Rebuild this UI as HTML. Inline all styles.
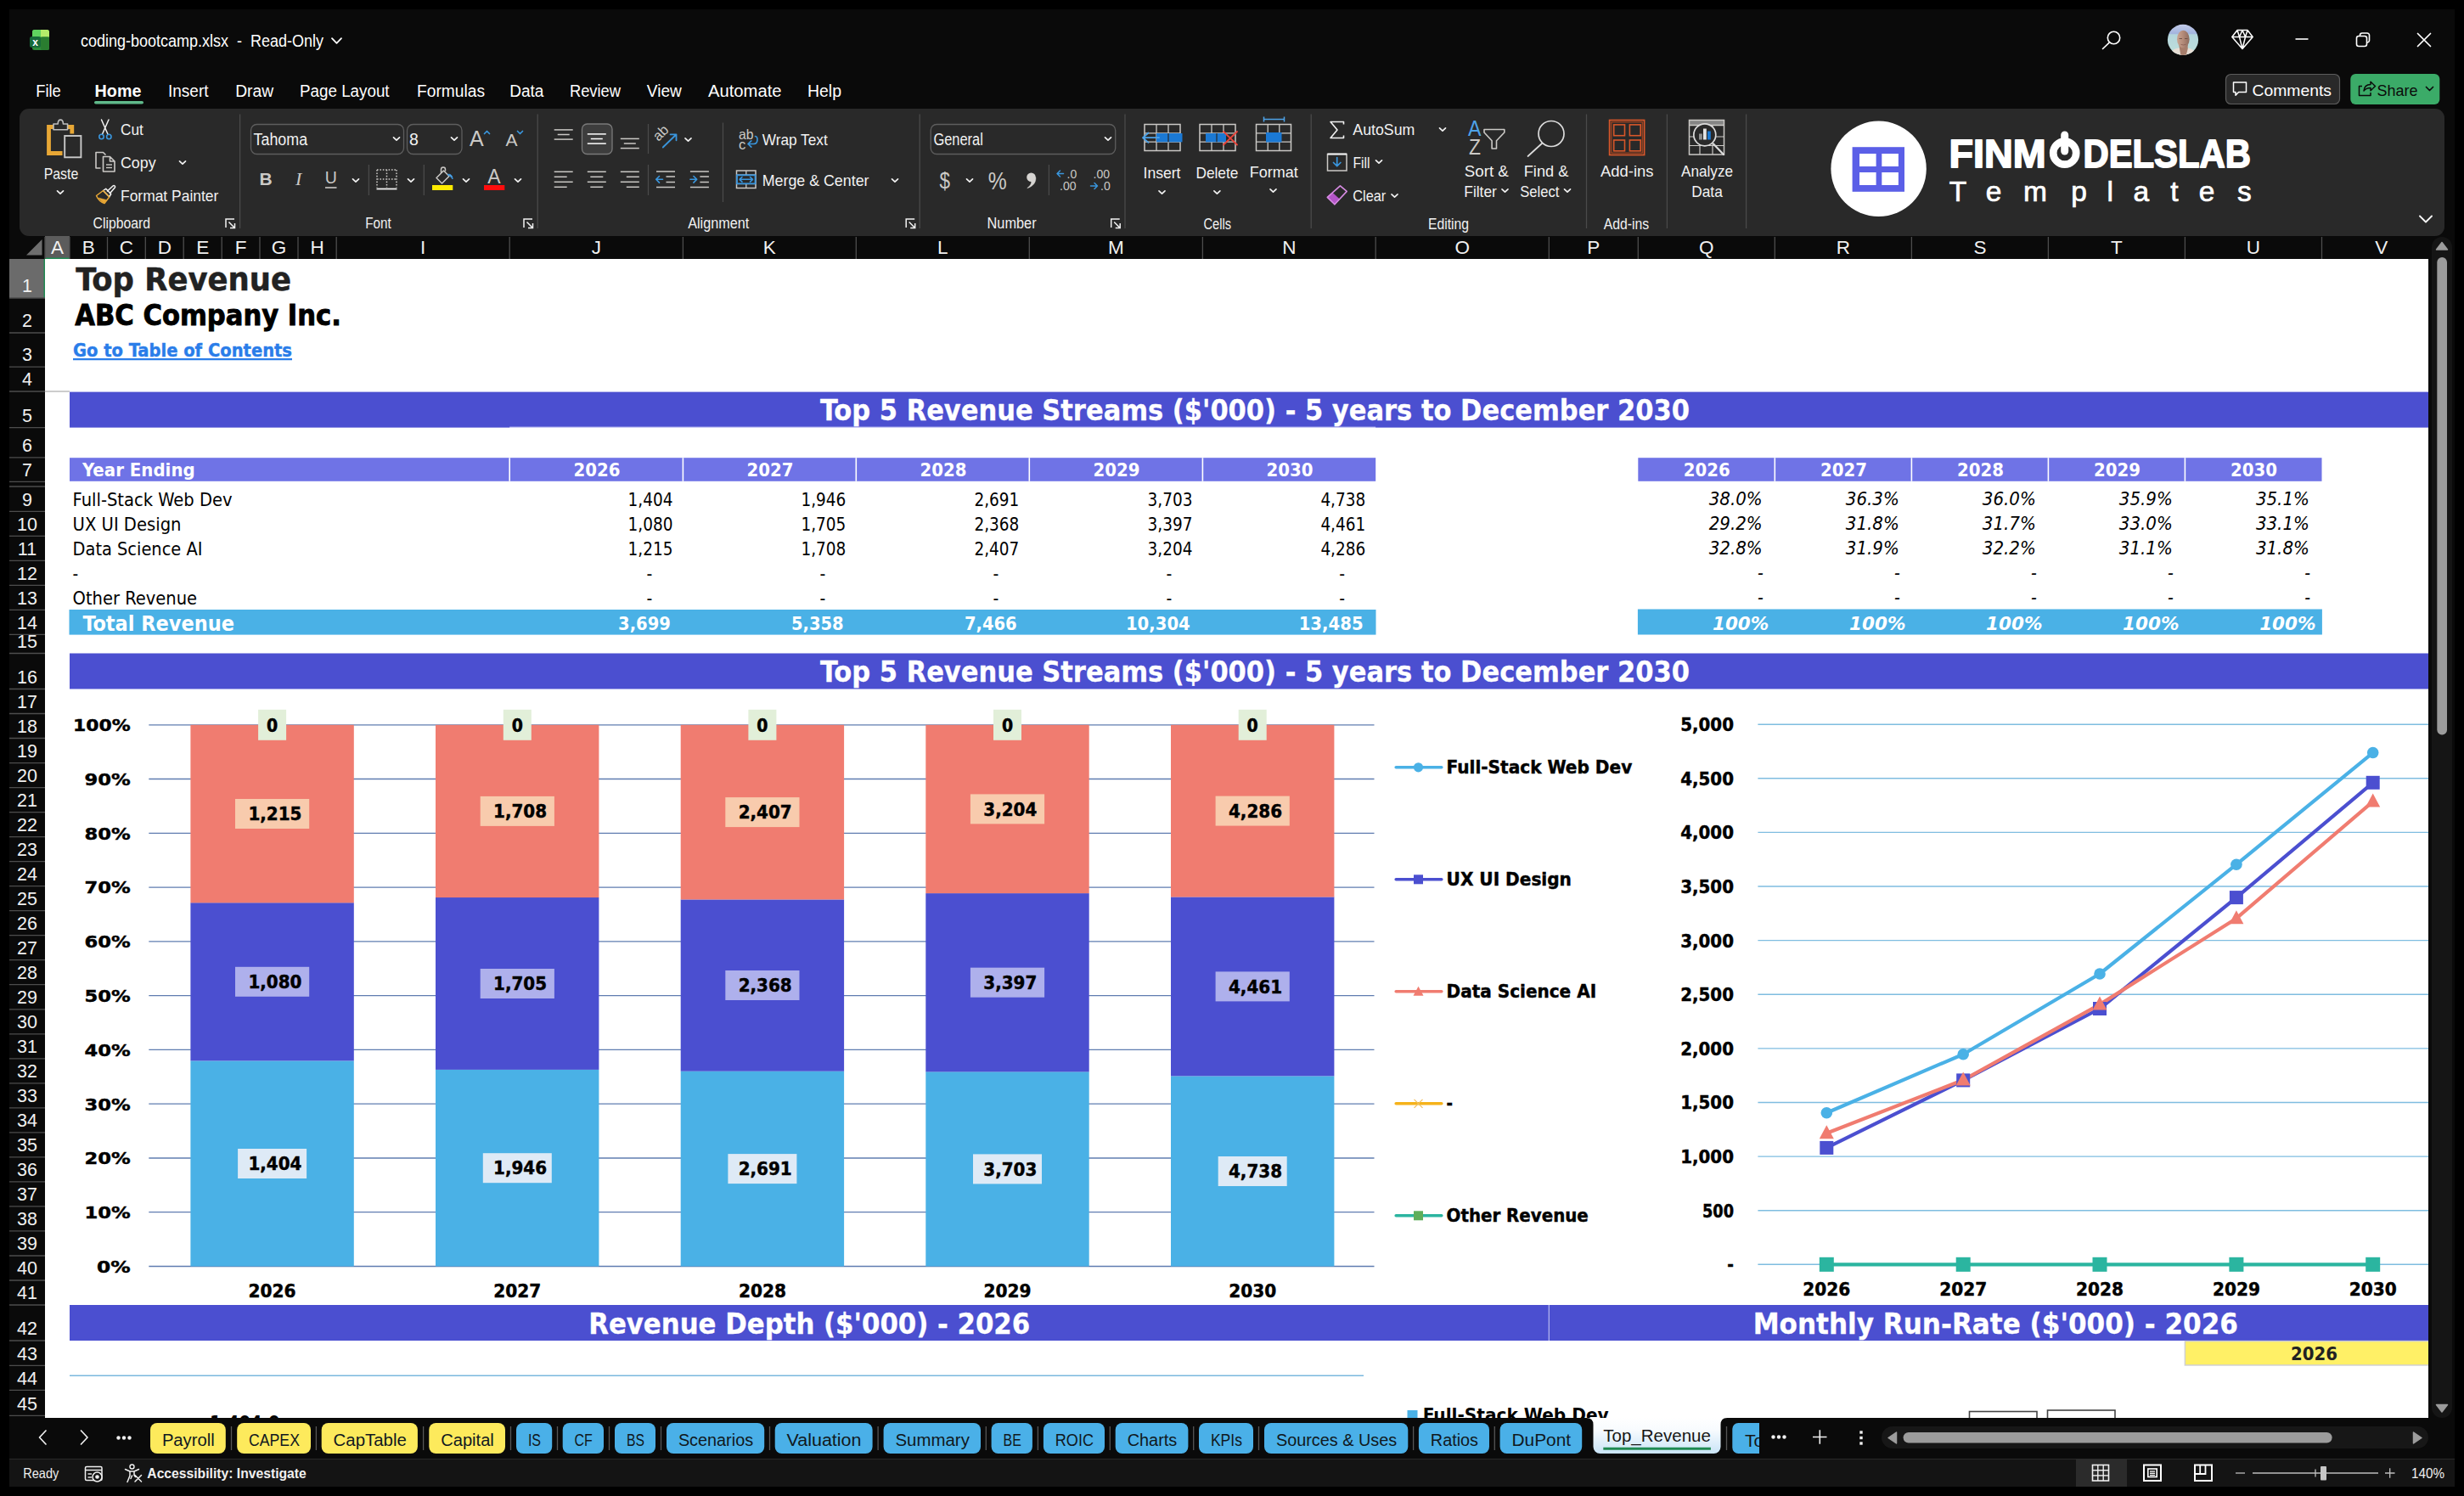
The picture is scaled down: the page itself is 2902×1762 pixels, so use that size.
<!DOCTYPE html>
<html lang="en"><head><meta charset="utf-8"><title>coding-bootcamp.xlsx - Excel</title><style>
html,body{margin:0;padding:0;background:#000;}
body{width:2902px;height:1762px;overflow:hidden;position:relative;font-family:"Liberation Sans",sans-serif;}
#win{position:absolute;left:11px;top:11px;width:2880px;height:1740px;background:#0a0a0a;}
.sec{position:absolute;overflow:hidden;margin:0;padding:0;display:block;}
.sec svg{display:block;position:absolute;left:0;top:0;}
svg text{font-family:"Liberation Sans",sans-serif;white-space:pre;}
svg text.th{font-family:"DejaVu Sans Condensed","DejaVu Sans","Liberation Sans",sans-serif;}
svg text.sf{font-family:"Liberation Serif",serif;}
</style></head>
<body>
<div id="win"></div>
<header id="titlebar" class="sec" style="left:11px;top:11px;width:2880px;height:117px;background:#0a0a0a;"><svg width="2880" height="117" viewBox="11 11 2880 117"><g id="xl-icon"><rect x="38" y="35" width="20" height="24" rx="2.5" fill="#2e8b3a"/><path d="M38 37.5a2.5 2.5 0 0 1 2.5-2.5H48v8.5H38z" fill="#5fd35f"/><path d="M48 35h7.5a2.5 2.5 0 0 1 2.5 2.5V43.5H48z" fill="#b4ec6a"/><rect x="48" y="43.5" width="10" height="15.5" fill="#2a7d30" rx="2"/><rect x="35" y="43" width="13" height="13" rx="2.5" fill="#176b3a"/><text x="41.5" y="54.0" font-size="12" fill="#fff" font-weight="bold" text-anchor="middle">x</text></g><text x="95.0" y="54.5" font-size="19.5" fill="#fff" textLength="286.0" lengthAdjust="spacingAndGlyphs">coding-bootcamp.xlsx  -  Read-Only</text><path d="M391.0 45.2L396.5 50.8L402.0 45.2" stroke="#fff" stroke-width="1.8" fill="none" stroke-linecap="round" stroke-linejoin="round"/><circle cx="2489.5" cy="44.5" r="7.2" fill="none" stroke="#fff" stroke-width="1.6"/><line x1="2484.5" y1="49.8" x2="2476.5" y2="57.5" stroke="#fff" stroke-width="1.6" stroke-linecap="round"/><defs><clipPath id="avc"><circle cx="2571" cy="46.900" r="18.100"/></clipPath><linearGradient id="avg" x1="0" y1="0" x2="0" y2="1"><stop offset="0" stop-color="#c5cdea"/><stop offset="0.30" stop-color="#a3b4de"/><stop offset="0.34" stop-color="#b4d6dc"/><stop offset="1" stop-color="#bfe0dc"/></linearGradient><linearGradient id="avf" x1="0" y1="0" x2="1" y2="0"><stop offset="0" stop-color="#c9a391"/><stop offset="0.45" stop-color="#b58c7a"/><stop offset="1" stop-color="#8f6b5d"/></linearGradient></defs><g clip-path="url(#avc)"><rect x="2552" y="28" width="38" height="38" fill="url(#avg)"/><path d="M2556 66c0.500-6 4-8.500 9.500-9.500h11.500c5.500 1 8.500 3.500 9.500 9.500z" fill="#e7ded5"/><path d="M2566.300 53h10.400v4.500l-2.200 8.500h-6z" fill="#a67d6b"/><ellipse cx="2571.300" cy="46.200" rx="7.300" ry="10.400" fill="url(#avf)"/><path d="M2566.500 45.500h3.500M2573 45.500h3.500" stroke="#6b4e44" stroke-width="0.900" fill="none"/><path d="M2568.500 52.300q3 1.300 6 0" stroke="#8a5f55" stroke-width="0.800" fill="none"/></g><path d="M2628.8 43.5L2635 35.5H2647L2653.2 43.5L2641 57.5Z M2628.8 43.5H2653.2 M2635 35.5L2637.5 43.5L2641 57.5L2644.5 43.5L2647 35.5 M2637.5 43.5L2641 35.5L2644.5 43.5" stroke="#fff" stroke-width="1.5" fill="none" stroke-linejoin="round"/><line x1="2703.5" y1="46.0" x2="2718.5" y2="46.0" stroke="#fff" stroke-width="1.6" /><rect x="2775.5" y="42.5" width="12.0" height="12.0" fill="none" rx="2.5" stroke="#fff" stroke-width="1.6"/><path d="M2779.5 42.5V41.5a2.5 2.5 0 0 1 2.5-2.5h6a2.5 2.5 0 0 1 2.5 2.5v6a2.5 2.5 0 0 1-2.5 2.5h-0.5" stroke="#fff" stroke-width="1.6" fill="none" /><path d="M2847.5 39.5L2862.5 54.5M2862.5 39.5L2847.5 54.5" stroke="#fff" stroke-width="1.7" fill="none" stroke-linecap="round"/><text x="42.2" y="114.3" font-size="19.5" fill="#fff" textLength="29.6" lengthAdjust="spacingAndGlyphs">File</text><text x="111.6" y="114.3" font-size="19.5" fill="#fff" font-weight="bold" textLength="54.8" lengthAdjust="spacingAndGlyphs">Home</text><text x="198.0" y="114.3" font-size="19.5" fill="#fff" textLength="47.5" lengthAdjust="spacingAndGlyphs">Insert</text><text x="277.2" y="114.3" font-size="19.5" fill="#fff" textLength="45.0" lengthAdjust="spacingAndGlyphs">Draw</text><text x="353.0" y="114.3" font-size="19.5" fill="#fff" textLength="105.6" lengthAdjust="spacingAndGlyphs">Page Layout</text><text x="491.0" y="114.3" font-size="19.5" fill="#fff" textLength="80.0" lengthAdjust="spacingAndGlyphs">Formulas</text><text x="600.2" y="114.3" font-size="19.5" fill="#fff" textLength="40.2" lengthAdjust="spacingAndGlyphs">Data</text><text x="670.9" y="114.3" font-size="19.5" fill="#fff" textLength="60.1" lengthAdjust="spacingAndGlyphs">Review</text><text x="761.8" y="114.3" font-size="19.5" fill="#fff" textLength="41.0" lengthAdjust="spacingAndGlyphs">View</text><text x="834.0" y="114.3" font-size="19.5" fill="#fff" textLength="86.5" lengthAdjust="spacingAndGlyphs">Automate</text><text x="951.0" y="114.3" font-size="19.5" fill="#fff" textLength="40.0" lengthAdjust="spacingAndGlyphs">Help</text><rect x="111.0" y="119.0" width="58.0" height="3.6" fill="#5fb98a" rx="1.8"/><rect x="2621.5" y="87.5" width="134.0" height="35.0" fill="#292929" rx="6" stroke="#5c5c5c" stroke-width="1.2"/><path d="M2630.5 97h15v11.5h-9l-3.5 3.8v-3.8h-2.5z" stroke="#fff" stroke-width="1.5" fill="none" stroke-linejoin="round"/><text x="2652.5" y="112.5" font-size="19" fill="#fff" textLength="93.5" lengthAdjust="spacingAndGlyphs">Comments</text><rect x="2768.3" y="87.0" width="105.0" height="36.0" fill="#3bab68" rx="6"/><path d="M2782 101.5h-3.5v11h13.5v-3.5 M2784 107c0.5-5 3.5-7.5 8-7.5v-3.2l5.5 5.2-5.5 5.2v-3.2c-3.5 0-6 1-8 3.5z" stroke="#0b0b0b" stroke-width="1.5" fill="none" stroke-linejoin="round"/><text x="2799.5" y="112.5" font-size="19" fill="#0b0b0b" textLength="48.0" lengthAdjust="spacingAndGlyphs">Share</text><path d="M2857.5 102.5L2861.5 106.5L2865.5 102.5" stroke="#0b0b0b" stroke-width="1.7" fill="none" stroke-linecap="round" stroke-linejoin="round"/></svg></header>
<section id="ribbon" class="sec" style="left:11px;top:128px;width:2880px;height:150px;background:#0a0a0a;"><svg width="2880" height="150" viewBox="11 128 2880 150"><rect x="23.0" y="128.0" width="2856.0" height="150.0" fill="#292929" rx="11"/><g id="paste-ic"><path d="M63 149.500H57.500V180.500H73.500" stroke="#e8a735" stroke-width="4.8" fill="none" stroke-linejoin="miter"/><path d="M80 149.500H84.800V157.500" stroke="#e8a735" stroke-width="4.8" fill="none" /><path d="M63 152.700v-6.700h5.200c0-6.500 6.200-6.500 6.200 0h5.200v6.700z" stroke="#bdbdbd" stroke-width="1.6" fill="#292929" stroke-linejoin="round"/><rect x="76.2" y="160.0" width="19.2" height="25.3" fill="#292929" stroke="#c9c9c9" stroke-width="1.9"/></g><text x="51.7" y="210.5" font-size="18.5" fill="#f2f2f2" textLength="40.6" lengthAdjust="spacingAndGlyphs">Paste</text><path d="M67.5 224.8L71.0 228.2L74.5 224.8" stroke="#f2f2f2" stroke-width="1.7" fill="none" stroke-linecap="round" stroke-linejoin="round"/><path d="M119.5 141L127 158 M128 141L120.5 158" stroke="#f2f2f2" stroke-width="1.5" fill="none" stroke-linecap="round"/><circle cx="119.5" cy="161" r="2.7" fill="none" stroke="#3a96dd" stroke-width="1.6"/><circle cx="128.3" cy="161" r="2.7" fill="none" stroke="#3a96dd" stroke-width="1.6"/><text x="142.0" y="158.8" font-size="18.5" fill="#f2f2f2" textLength="26.8" lengthAdjust="spacingAndGlyphs">Cut</text><path d="M118.5 198H113V179.5h8.5l3 3" stroke="#cbc9c6" stroke-width="1.6" fill="none" stroke-linejoin="round"/><path d="M121.5 184.5h8l5.5 5.5v12h-13.5z M129.5 184.5v5.5h5.5" stroke="#cbc9c6" stroke-width="1.6" fill="none" stroke-linejoin="round"/><line x1="125.0" y1="194.0" x2="132.0" y2="194.0" stroke="#cbc9c6" stroke-width="1.4" /><line x1="125.0" y1="197.5" x2="132.0" y2="197.5" stroke="#cbc9c6" stroke-width="1.4" /><text x="142.0" y="198.0" font-size="18.5" fill="#f2f2f2" textLength="41.6" lengthAdjust="spacingAndGlyphs">Copy</text><path d="M211.5 189.8L215.0 193.2L218.5 189.8" stroke="#f2f2f2" stroke-width="1.7" fill="none" stroke-linecap="round" stroke-linejoin="round"/><path d="M126 225.5l7-6.5c1.5-1.3 3.4 0.6 2.2 2.1l-6.2 7.2" stroke="#f2f2f2" stroke-width="1.6" fill="none" stroke-linejoin="round"/><path d="M121.5 224.5l3.2-2.2 6 6.2-2 3.3z" stroke="#f2f2f2" stroke-width="1.5" fill="none" stroke-linejoin="round"/><path d="M113.5 230.5l8-6 7.2 7.5-5.7 7.5c-4-1.2-7.5-4.500-9.5-9z" stroke="#e8a735" stroke-width="1.5" fill="none" stroke-linejoin="round"/><path d="M116 233l9.500 2.5-2.500 3.500c-3-1-5.500-3.500-7-6z" stroke="#e8a735" stroke-width="0.5" fill="#e8a735" /><text x="142.0" y="236.5" font-size="18.5" fill="#f2f2f2" textLength="115.3" lengthAdjust="spacingAndGlyphs">Format Painter</text><text x="143.3" y="269.0" font-size="17.5" fill="#f2f2f2" text-anchor="middle" textLength="67.4" lengthAdjust="spacingAndGlyphs">Clipboard</text><path d="M266 268V258H276 M269.5 261.5L276.5 268.5 M276.5 263V268.5H271" stroke="#f2f2f2" stroke-width="1.5" fill="none" /><line x1="282.6" y1="134.5" x2="282.6" y2="269.0" stroke="#4a4a4a" stroke-width="1.3" /><rect x="295.5" y="146.5" width="180.0" height="35.0" fill="#292929" rx="7" stroke="#5e5e5e" stroke-width="1.3"/><text x="298.6" y="171.0" font-size="19.5" fill="#f2f2f2" textLength="63.5" lengthAdjust="spacingAndGlyphs">Tahoma</text><path d="M463.5 161.8L467.0 165.2L470.5 161.8" stroke="#f2f2f2" stroke-width="1.7" fill="none" stroke-linecap="round" stroke-linejoin="round"/><rect x="479.5" y="146.5" width="64.5" height="35.0" fill="#292929" rx="7" stroke="#5e5e5e" stroke-width="1.3"/><text x="482.0" y="171.0" font-size="19.5" fill="#f2f2f2">8</text><path d="M531.5 161.8L535.0 165.2L538.5 161.8" stroke="#f2f2f2" stroke-width="1.7" fill="none" stroke-linecap="round" stroke-linejoin="round"/><text x="553.0" y="172.0" font-size="25" fill="#cbc9c6">A</text><path d="M570.5 157.5l3-3 3 3" stroke="#3a96dd" stroke-width="1.7" fill="none" stroke-linecap="round" stroke-linejoin="round"/><text x="595.5" y="172.0" font-size="21" fill="#cbc9c6">A</text><path d="M609.5 154.500l3 3 3-3" stroke="#3a96dd" stroke-width="1.7" fill="none" stroke-linecap="round" stroke-linejoin="round"/><text x="313.0" y="218.0" font-size="21" fill="#cbc9c6" font-weight="bold" text-anchor="middle">B</text><text x="351.6" y="218.0" font-size="22" fill="#cbc9c6" text-anchor="middle" class="sf" font-style="italic">I</text><text x="389.7" y="216.0" font-size="19.5" fill="#cbc9c6" text-anchor="middle">U</text><line x1="383.0" y1="221.0" x2="396.5" y2="221.0" stroke="#cbc9c6" stroke-width="1.6" /><path d="M415.5 210.8L419.0 214.2L422.5 210.8" stroke="#f2f2f2" stroke-width="1.7" fill="none" stroke-linecap="round" stroke-linejoin="round"/><line x1="434.4" y1="194.0" x2="434.4" y2="230.0" stroke="#4a4a4a" stroke-width="1.3" /><path d="M444 200H467 M444 200V221 M467 200V221 M455.5 200V221 M444 211H467" stroke="#cbc9c6" stroke-width="1.5" fill="none" stroke-dasharray="1.6 1.8"/><line x1="443.5" y1="222.5" x2="467.5" y2="222.5" stroke="#f2f2f2" stroke-width="1.8" /><path d="M480.5 210.8L484.0 214.2L487.5 210.8" stroke="#f2f2f2" stroke-width="1.7" fill="none" stroke-linecap="round" stroke-linejoin="round"/><line x1="499.3" y1="194.0" x2="499.3" y2="230.0" stroke="#4a4a4a" stroke-width="1.3" /><path d="M514 209.5l8.5-8.500 6.5 6.500-8.500 8.500z M519.5 204v-4.500a2.500 2.500 0 0 1 5 0v2" stroke="#cbc9c6" stroke-width="1.5" fill="none" stroke-linejoin="round"/><path d="M527 205.5c3.5-1 6 1 6 5.500c-1.500-2.800-3.500-4-6-5.500z" stroke="#3a96dd" stroke-width="1" fill="#5aa7e6" /><rect x="509.0" y="218.0" width="24.3" height="6.0" fill="#ffeb00"/><path d="M545.5 210.8L549.0 214.2L552.5 210.8" stroke="#f2f2f2" stroke-width="1.7" fill="none" stroke-linecap="round" stroke-linejoin="round"/><text x="582.0" y="215.5" font-size="23" fill="#cbc9c6" text-anchor="middle">A</text><rect x="570.0" y="218.0" width="24.3" height="6.0" fill="#ff0d0d"/><path d="M606.5 210.8L610.0 214.2L613.5 210.8" stroke="#f2f2f2" stroke-width="1.7" fill="none" stroke-linecap="round" stroke-linejoin="round"/><text x="445.5" y="269.0" font-size="17.5" fill="#f2f2f2" text-anchor="middle" textLength="30.5" lengthAdjust="spacingAndGlyphs">Font</text><path d="M617 268V258H627 M620.5 261.5L627.5 268.5 M627.5 263V268.5H622" stroke="#f2f2f2" stroke-width="1.5" fill="none" /><line x1="633.2" y1="134.5" x2="633.2" y2="269.0" stroke="#4a4a4a" stroke-width="1.3" /><line x1="652.7" y1="152.9" x2="674.7" y2="152.9" stroke="#cbc9c6" stroke-width="1.5" /><line x1="656.7" y1="158.5" x2="670.7" y2="158.5" stroke="#cbc9c6" stroke-width="1.5" /><line x1="652.7" y1="164.1" x2="674.7" y2="164.1" stroke="#cbc9c6" stroke-width="1.5" /><rect x="685.5" y="146.0" width="35.5" height="35.5" fill="#3d3d3d" rx="6" stroke="#7a7a7a" stroke-width="1.3"/><line x1="691.8" y1="157.9" x2="713.8" y2="157.9" stroke="#fff" stroke-width="1.5" /><line x1="695.8" y1="163.5" x2="709.8" y2="163.5" stroke="#fff" stroke-width="1.5" /><line x1="691.8" y1="169.1" x2="713.8" y2="169.1" stroke="#fff" stroke-width="1.5" /><line x1="730.8" y1="163.4" x2="752.8" y2="163.4" stroke="#cbc9c6" stroke-width="1.5" /><line x1="734.8" y1="169.0" x2="748.8" y2="169.0" stroke="#cbc9c6" stroke-width="1.5" /><line x1="730.8" y1="174.6" x2="752.8" y2="174.6" stroke="#cbc9c6" stroke-width="1.5" /><line x1="652.7" y1="202.3" x2="674.7" y2="202.3" stroke="#cbc9c6" stroke-width="1.5" /><line x1="652.7" y1="208.3" x2="667.7" y2="208.3" stroke="#cbc9c6" stroke-width="1.5" /><line x1="652.7" y1="214.3" x2="674.7" y2="214.3" stroke="#cbc9c6" stroke-width="1.5" /><line x1="652.7" y1="220.3" x2="667.7" y2="220.3" stroke="#cbc9c6" stroke-width="1.5" /><line x1="691.8" y1="202.3" x2="713.8" y2="202.3" stroke="#cbc9c6" stroke-width="1.5" /><line x1="695.3" y1="208.3" x2="710.3" y2="208.3" stroke="#cbc9c6" stroke-width="1.5" /><line x1="691.8" y1="214.3" x2="713.8" y2="214.3" stroke="#cbc9c6" stroke-width="1.5" /><line x1="695.3" y1="220.3" x2="710.3" y2="220.3" stroke="#cbc9c6" stroke-width="1.5" /><line x1="730.8" y1="202.3" x2="752.8" y2="202.3" stroke="#cbc9c6" stroke-width="1.5" /><line x1="737.8" y1="208.3" x2="752.8" y2="208.3" stroke="#cbc9c6" stroke-width="1.5" /><line x1="730.8" y1="214.3" x2="752.8" y2="214.3" stroke="#cbc9c6" stroke-width="1.5" /><line x1="737.8" y1="220.3" x2="752.8" y2="220.3" stroke="#cbc9c6" stroke-width="1.5" /><line x1="763.5" y1="146.0" x2="763.5" y2="181.0" stroke="#4a4a4a" stroke-width="1.3" /><line x1="763.5" y1="194.0" x2="763.5" y2="230.0" stroke="#4a4a4a" stroke-width="1.3" /><text x="0.0" y="0.0" font-size="16.5" fill="#cbc9c6" transform="translate(775.500,167) rotate(-45)">ab</text><path d="M780.800 173.500l15.500-15 M789.500 158.300h7v7" stroke="#3a96dd" stroke-width="1.8" fill="none" stroke-linecap="round" stroke-linejoin="round"/><path d="M807.0 162.8L810.5 166.2L814.0 162.8" stroke="#f2f2f2" stroke-width="1.7" fill="none" stroke-linecap="round" stroke-linejoin="round"/><line x1="773.0" y1="202.0" x2="795.0" y2="202.0" stroke="#cbc9c6" stroke-width="1.5" /><line x1="773.0" y1="220.5" x2="795.0" y2="220.5" stroke="#cbc9c6" stroke-width="1.5" /><line x1="784.5" y1="208.0" x2="795.0" y2="208.0" stroke="#cbc9c6" stroke-width="1.5" /><line x1="784.5" y1="214.5" x2="795.0" y2="214.5" stroke="#cbc9c6" stroke-width="1.5" /><path d="M780.5 211.3H773 M776.5 207.500l-3.800 3.800 3.800 3.800" stroke="#3a96dd" stroke-width="1.6" fill="none" stroke-linecap="round" stroke-linejoin="round"/><line x1="812.9" y1="202.0" x2="834.9" y2="202.0" stroke="#cbc9c6" stroke-width="1.5" /><line x1="812.9" y1="220.5" x2="834.9" y2="220.5" stroke="#cbc9c6" stroke-width="1.5" /><line x1="824.4" y1="208.0" x2="834.9" y2="208.0" stroke="#cbc9c6" stroke-width="1.5" /><line x1="824.4" y1="214.5" x2="834.9" y2="214.5" stroke="#cbc9c6" stroke-width="1.5" /><path d="M812.9 211.3H820.4 M816.9 207.500l3.800 3.800-3.800 3.800" stroke="#3a96dd" stroke-width="1.6" fill="none" stroke-linecap="round" stroke-linejoin="round"/><line x1="851.5" y1="144.5" x2="851.5" y2="238.0" stroke="#4a4a4a" stroke-width="1.3" /><text x="870.0" y="163.5" font-size="16.5" fill="#cbc9c6" textLength="17.5" lengthAdjust="spacingAndGlyphs">ab</text><text x="870.0" y="175.5" font-size="16.5" fill="#cbc9c6">c</text><path d="M889.500 160.500c3.500 0.500 3.500 9-1.500 9h-7 M884.800 165.800l-3.800 3.700 3.800 3.700" stroke="#3a96dd" stroke-width="1.7" fill="none" stroke-linecap="round" stroke-linejoin="round"/><text x="897.7" y="171.0" font-size="18.5" fill="#f2f2f2" textLength="77.0" lengthAdjust="spacingAndGlyphs">Wrap Text</text><rect x="867.5" y="201.0" width="22.5" height="20.5" fill="none" stroke="#cbc9c6" stroke-width="1.5"/><line x1="867.5" y1="206.0" x2="890.0" y2="206.0" stroke="#cbc9c6" stroke-width="1.3" /><line x1="867.5" y1="216.5" x2="890.0" y2="216.5" stroke="#cbc9c6" stroke-width="1.3" /><line x1="878.8" y1="201.0" x2="878.8" y2="206.0" stroke="#cbc9c6" stroke-width="1.3" /><line x1="878.8" y1="216.5" x2="878.8" y2="221.5" stroke="#cbc9c6" stroke-width="1.3" /><rect x="868.0" y="206.3" width="21.5" height="10.0" fill="#292929" stroke="#3a96dd" stroke-width="1.8"/><path d="M871 211.3h15.500 M874 208.500l-3 2.800 3 2.800 M883.500 208.500l3 2.800-3 2.800" stroke="#3a96dd" stroke-width="1.6" fill="none" stroke-linecap="round" stroke-linejoin="round"/><text x="897.7" y="219.0" font-size="18.5" fill="#f2f2f2" textLength="125.8" lengthAdjust="spacingAndGlyphs">Merge &amp; Center</text><path d="M1050.5 210.8L1054.0 214.2L1057.5 210.8" stroke="#f2f2f2" stroke-width="1.7" fill="none" stroke-linecap="round" stroke-linejoin="round"/><text x="846.2" y="269.0" font-size="17.5" fill="#f2f2f2" text-anchor="middle" textLength="72.0" lengthAdjust="spacingAndGlyphs">Alignment</text><path d="M1067.2 268V258H1077.2 M1070.7 261.5L1077.7 268.5 M1077.7 263V268.5H1072.2" stroke="#f2f2f2" stroke-width="1.5" fill="none" /><line x1="1083.2" y1="134.5" x2="1083.2" y2="269.0" stroke="#4a4a4a" stroke-width="1.3" /><rect x="1096.2" y="146.5" width="217.5" height="35.0" fill="#292929" rx="7" stroke="#5e5e5e" stroke-width="1.3"/><text x="1099.4" y="171.0" font-size="19.5" fill="#f2f2f2" textLength="58.5" lengthAdjust="spacingAndGlyphs">General</text><path d="M1301.5 161.8L1305.0 165.2L1308.5 161.8" stroke="#f2f2f2" stroke-width="1.7" fill="none" stroke-linecap="round" stroke-linejoin="round"/><text x="1112.8" y="221.5" font-size="27.5" fill="#cbc9c6" text-anchor="middle" textLength="12.5" lengthAdjust="spacingAndGlyphs">$</text><path d="M1138.5 210.8L1142.0 214.2L1145.5 210.8" stroke="#f2f2f2" stroke-width="1.7" fill="none" stroke-linecap="round" stroke-linejoin="round"/><text x="1174.8" y="222.5" font-size="30" fill="#cbc9c6" text-anchor="middle" textLength="22.0" lengthAdjust="spacingAndGlyphs">%</text><circle cx="1214.500" cy="208.700" r="5.300" fill="#d6d4d1"/><path d="M1219.800 208.700C1220.600 215 1216 220 1209.800 221.600C1213.500 219 1215 216 1214.600 213.500Z" stroke="#d6d4d1" stroke-width="0.5" fill="#d6d4d1" /><line x1="1235.4" y1="194.0" x2="1235.4" y2="230.0" stroke="#4a4a4a" stroke-width="1.3" /><text x="1256.5" y="210.0" font-size="14" fill="#cbc9c6">.0</text><text x="1248.0" y="223.5" font-size="14" fill="#cbc9c6">.00</text><path d="M1245 204.500h7.500 M1248.500 201l-3.500 3.500 3.500 3.500" stroke="#3a96dd" stroke-width="1.5" fill="none" stroke-linecap="round" stroke-linejoin="round"/><text x="1287.5" y="210.0" font-size="14" fill="#cbc9c6">.00</text><text x="1296.0" y="223.5" font-size="14" fill="#cbc9c6">.0</text><path d="M1284.500 219h8 M1289 215.500l3.500 3.500-3.500 3.500" stroke="#3a96dd" stroke-width="1.5" fill="none" stroke-linecap="round" stroke-linejoin="round"/><text x="1191.6" y="269.0" font-size="17.5" fill="#f2f2f2" text-anchor="middle" textLength="58.0" lengthAdjust="spacingAndGlyphs">Number</text><path d="M1308.7 268V258H1318.7 M1312.2 261.5L1319.2 268.5 M1319.2 263V268.5H1313.7" stroke="#f2f2f2" stroke-width="1.5" fill="none" /><line x1="1325.0" y1="134.5" x2="1325.0" y2="269.0" stroke="#4a4a4a" stroke-width="1.3" /><rect x="1348.0" y="146.5" width="42.0" height="31.0" fill="none" stroke="#cbc9c6" stroke-width="1.5"/><line x1="1362.0" y1="146.5" x2="1362.0" y2="177.5" stroke="#cbc9c6" stroke-width="1.3" /><line x1="1376.0" y1="146.5" x2="1376.0" y2="177.5" stroke="#cbc9c6" stroke-width="1.3" /><line x1="1348.0" y1="156.8" x2="1390.0" y2="156.8" stroke="#cbc9c6" stroke-width="1.3" /><line x1="1348.0" y1="167.2" x2="1390.0" y2="167.2" stroke="#cbc9c6" stroke-width="1.3" /><rect x="1362.0" y="157.0" width="30.5" height="10.3" fill="#1b79d4"/><line x1="1376.0" y1="157.0" x2="1376.0" y2="167.3" stroke="#292929" stroke-width="1.2" /><path d="M1365 162.200h-18.500 M1352.500 156.500l-6.500 5.700 6.500 5.700" stroke="#4ea3e8" stroke-width="1.8" fill="none" stroke-linecap="round" stroke-linejoin="round"/><text x="1368.5" y="210.0" font-size="18.5" fill="#f2f2f2" text-anchor="middle" textLength="44.0" lengthAdjust="spacingAndGlyphs">Insert</text><path d="M1365.0 224.8L1368.5 228.2L1372.0 224.8" stroke="#f2f2f2" stroke-width="1.7" fill="none" stroke-linecap="round" stroke-linejoin="round"/><rect x="1413.0" y="146.5" width="42.0" height="31.0" fill="none" stroke="#cbc9c6" stroke-width="1.5"/><line x1="1427.0" y1="146.5" x2="1427.0" y2="177.5" stroke="#cbc9c6" stroke-width="1.3" /><line x1="1441.0" y1="146.5" x2="1441.0" y2="177.5" stroke="#cbc9c6" stroke-width="1.3" /><line x1="1413.0" y1="156.8" x2="1455.0" y2="156.8" stroke="#cbc9c6" stroke-width="1.3" /><line x1="1413.0" y1="167.2" x2="1455.0" y2="167.2" stroke="#cbc9c6" stroke-width="1.3" /><rect x="1420.0" y="157.0" width="24.0" height="10.3" fill="#1b79d4"/><line x1="1433.0" y1="157.0" x2="1433.0" y2="167.3" stroke="#292929" stroke-width="1.2" /><path d="M1441 155l16 15.500 M1457 155l-16 15.500" stroke="#e8443a" stroke-width="1.8" fill="none" stroke-linecap="round"/><text x="1433.4" y="210.0" font-size="18.5" fill="#f2f2f2" text-anchor="middle" textLength="50.0" lengthAdjust="spacingAndGlyphs">Delete</text><path d="M1429.9 224.8L1433.4 228.2L1436.9 224.8" stroke="#f2f2f2" stroke-width="1.7" fill="none" stroke-linecap="round" stroke-linejoin="round"/><rect x="1479.5" y="146.5" width="41.0" height="31.0" fill="none" stroke="#cbc9c6" stroke-width="1.5"/><line x1="1493.2" y1="146.5" x2="1493.2" y2="177.5" stroke="#cbc9c6" stroke-width="1.3" /><line x1="1506.8" y1="146.5" x2="1506.8" y2="177.5" stroke="#cbc9c6" stroke-width="1.3" /><line x1="1479.5" y1="156.8" x2="1520.5" y2="156.8" stroke="#cbc9c6" stroke-width="1.3" /><line x1="1479.5" y1="167.2" x2="1520.5" y2="167.2" stroke="#cbc9c6" stroke-width="1.3" /><rect x="1491.0" y="156.0" width="18.5" height="11.5" fill="#1b79d4"/><path d="M1488.500 140.500h24 M1488.500 137.500v6 M1512.500 137.500v6" stroke="#4ea3e8" stroke-width="1.5" fill="none" /><text x="1500.3" y="208.5" font-size="18.5" fill="#f2f2f2" text-anchor="middle" textLength="57.0" lengthAdjust="spacingAndGlyphs">Format</text><path d="M1496.0 222.8L1499.5 226.2L1503.0 222.8" stroke="#f2f2f2" stroke-width="1.7" fill="none" stroke-linecap="round" stroke-linejoin="round"/><text x="1433.8" y="270.0" font-size="17.5" fill="#f2f2f2" text-anchor="middle" textLength="32.5" lengthAdjust="spacingAndGlyphs">Cells</text><line x1="1544.2" y1="134.5" x2="1544.2" y2="269.0" stroke="#4a4a4a" stroke-width="1.3" /><path d="M1582.500 146.500v-3h-15.500l8 9.500-8 9.500h15.500v-3" stroke="#f2f2f2" stroke-width="1.6" fill="none" stroke-linejoin="round"/><text x="1593.3" y="158.8" font-size="18.5" fill="#f2f2f2" textLength="73.0" lengthAdjust="spacingAndGlyphs">AutoSum</text><path d="M1695.5 150.8L1699.0 154.2L1702.5 150.8" stroke="#f2f2f2" stroke-width="1.7" fill="none" stroke-linecap="round" stroke-linejoin="round"/><path d="M1563.500 181.500h22.500v19.500h-22.500z" stroke="#cbc9c6" stroke-width="1.5" fill="none" /><line x1="1563.5" y1="181.5" x2="1586.0" y2="181.5" stroke="#f2f2f2" stroke-width="2" /><path d="M1574.700 185.500v10 M1570.500 191.500l4.200 4.200 4.200-4.200" stroke="#3a96dd" stroke-width="1.7" fill="none" stroke-linecap="round" stroke-linejoin="round"/><text x="1593.5" y="198.0" font-size="18.5" fill="#f2f2f2" textLength="20.0" lengthAdjust="spacingAndGlyphs">Fill</text><path d="M1620.5 188.8L1624.0 192.2L1627.5 188.8" stroke="#f2f2f2" stroke-width="1.7" fill="none" stroke-linecap="round" stroke-linejoin="round"/><path d="M1569.300 227L1577.600 234.600L1571.900 240.800L1563.300 232.400Z" stroke="#b455c8" stroke-width="0.5" fill="#b455c8" /><path d="M1578.400 218.900L1586.200 225.400L1571.900 240.800L1563.300 232.400Z" stroke="#d78be3" stroke-width="1.6" fill="none" stroke-linejoin="round"/><text x="1593.3" y="237.0" font-size="18.5" fill="#f2f2f2" textLength="39.0" lengthAdjust="spacingAndGlyphs">Clear</text><path d="M1639.0 228.8L1642.5 232.2L1646.0 228.8" stroke="#f2f2f2" stroke-width="1.7" fill="none" stroke-linecap="round" stroke-linejoin="round"/><text x="1729.0" y="159.7" font-size="25" fill="#4ea3e8" textLength="15.5" lengthAdjust="spacingAndGlyphs">A</text><text x="1730.0" y="181.8" font-size="25" fill="#cbc9c6" textLength="14.0" lengthAdjust="spacingAndGlyphs">Z</text><path d="M1748 152.500H1771.800V156L1762.500 165.700V175H1757.100V165.700L1748 156Z" stroke="#cbc9c6" stroke-width="1.6" fill="none" stroke-linejoin="round"/><text x="1750.8" y="208.3" font-size="18.5" fill="#f2f2f2" text-anchor="middle" textLength="52.0" lengthAdjust="spacingAndGlyphs">Sort &amp;</text><text x="1724.3" y="232.3" font-size="18.5" fill="#f2f2f2" textLength="38.5" lengthAdjust="spacingAndGlyphs">Filter</text><path d="M1769.0 222.8L1772.5 226.2L1776.0 222.8" stroke="#f2f2f2" stroke-width="1.7" fill="none" stroke-linecap="round" stroke-linejoin="round"/><circle cx="1827" cy="157.500" r="15" fill="none" stroke="#dcdcdc" stroke-width="1.7"/><line x1="1816.5" y1="168.5" x2="1799.5" y2="184.0" stroke="#dcdcdc" stroke-width="1.7" stroke-linecap="round"/><text x="1821.0" y="208.3" font-size="18.5" fill="#f2f2f2" text-anchor="middle" textLength="52.5" lengthAdjust="spacingAndGlyphs">Find &amp;</text><text x="1790.3" y="232.3" font-size="18.5" fill="#f2f2f2" textLength="46.0" lengthAdjust="spacingAndGlyphs">Select</text><path d="M1842.5 222.8L1846.0 226.2L1849.5 222.8" stroke="#f2f2f2" stroke-width="1.7" fill="none" stroke-linecap="round" stroke-linejoin="round"/><text x="1706.0" y="270.0" font-size="17.5" fill="#f2f2f2" text-anchor="middle" textLength="48.0" lengthAdjust="spacingAndGlyphs">Editing</text><line x1="1868.5" y1="134.5" x2="1868.5" y2="269.0" stroke="#4a4a4a" stroke-width="1.3" /><rect x="1895.6" y="141.5" width="41.0" height="41.0" fill="none" stroke="#d8572a" stroke-width="1.7"/><rect x="1897.9" y="143.8" width="36.4" height="36.4" fill="none" stroke="#a8441f" stroke-width="1.2"/><rect x="1900.7" y="146.9" width="12.8" height="12.8" fill="none" stroke="#d8572a" stroke-width="1.6"/><rect x="1919.4" y="146.9" width="12.8" height="12.8" fill="none" stroke="#d8572a" stroke-width="1.6"/><rect x="1900.7" y="165.0" width="12.8" height="12.8" fill="none" stroke="#d8572a" stroke-width="1.6"/><rect x="1919.4" y="165.0" width="12.8" height="12.8" fill="none" stroke="#d8572a" stroke-width="1.6"/><text x="1916.3" y="208.3" font-size="18.5" fill="#f2f2f2" text-anchor="middle" textLength="62.5" lengthAdjust="spacingAndGlyphs">Add-ins</text><text x="1915.5" y="270.0" font-size="17.5" fill="#f2f2f2" text-anchor="middle" textLength="53.5" lengthAdjust="spacingAndGlyphs">Add-ins</text><line x1="1963.4" y1="134.5" x2="1963.4" y2="269.0" stroke="#4a4a4a" stroke-width="1.3" /><rect x="1989.5" y="142.0" width="41.0" height="5.5" fill="#858585"/><rect x="1989.5" y="141.5" width="41.0" height="40.5" fill="none" stroke="#cbc9c6" stroke-width="1.5"/><line x1="1989.5" y1="147.5" x2="2030.5" y2="147.5" stroke="#cbc9c6" stroke-width="1.3" /><line x1="1989.5" y1="161.0" x2="2030.5" y2="161.0" stroke="#cbc9c6" stroke-width="1.2" /><line x1="1989.5" y1="171.5" x2="2030.5" y2="171.5" stroke="#cbc9c6" stroke-width="1.2" /><line x1="2002.0" y1="147.5" x2="2002.0" y2="182.0" stroke="#cbc9c6" stroke-width="1.2" /><line x1="2017.0" y1="147.5" x2="2017.0" y2="182.0" stroke="#cbc9c6" stroke-width="1.2" /><circle cx="2007.800" cy="158.800" r="13" fill="#292929" stroke="#dcdcdc" stroke-width="1.7"/><rect x="2001.0" y="157.5" width="3.8" height="7.0" fill="#8f8f8f"/><rect x="2006.0" y="151.5" width="3.8" height="13.0" fill="#e4e4e4"/><rect x="2011.0" y="154.5" width="3.8" height="10.0" fill="#1b79d4"/><line x1="2018.0" y1="169.5" x2="2030.0" y2="182.0" stroke="#dcdcdc" stroke-width="2.2" stroke-linecap="round"/><text x="2010.5" y="208.3" font-size="18.5" fill="#f2f2f2" text-anchor="middle" textLength="61.0" lengthAdjust="spacingAndGlyphs">Analyze</text><text x="2010.5" y="232.0" font-size="18.5" fill="#f2f2f2" text-anchor="middle" textLength="36.5" lengthAdjust="spacingAndGlyphs">Data</text><line x1="2056.6" y1="134.5" x2="2056.6" y2="269.0" stroke="#4a4a4a" stroke-width="1.3" /><circle cx="2212.600" cy="198.800" r="56.200" fill="#fff"/><rect x="2181.6" y="173.2" width="61.4" height="52.6" fill="#5b5fe7"/><rect x="2190.0" y="181.0" width="19.6" height="15.0" fill="#fff"/><rect x="2216.3" y="181.0" width="19.6" height="15.0" fill="#fff"/><rect x="2190.0" y="203.0" width="19.6" height="15.0" fill="#fff"/><rect x="2216.3" y="203.0" width="19.6" height="15.0" fill="#fff"/><text x="2295.5" y="197.2" font-size="47" fill="#fff" font-weight="bold" textLength="114.2" lengthAdjust="spacingAndGlyphs" stroke="#fff" stroke-width="1.800" stroke-linejoin="round">FINM</text><text x="2453.6" y="197.2" font-size="47" fill="#fff" font-weight="bold" textLength="197.2" lengthAdjust="spacingAndGlyphs" stroke="#fff" stroke-width="1.800" stroke-linejoin="round">DELSLAB</text><circle cx="2431.700" cy="180.200" r="13.500" fill="none" stroke="#fff" stroke-width="8.700"/><line x1="2431.7" y1="159.0" x2="2431.7" y2="178.0" stroke="#fff" stroke-width="9" stroke-linecap="round"/><text x="2306 2348 2397 2448.5 2485.3 2521.8 2560.8 2599.1 2643.4" y="237" font-size="33.500" fill="#fff" stroke="#fff" stroke-width="0.700" text-anchor="middle">Templates</text><path d="M2850.0 254.5L2857.0 261.5L2864.0 254.5" stroke="#fff" stroke-width="1.8" fill="none" stroke-linecap="round" stroke-linejoin="round"/></svg></section>
<div id="colhdr" class="sec" style="left:11px;top:278px;width:2849px;height:27px;background:#0a0a0a;"><svg width="2849" height="27" viewBox="11 278 2849 27"><path d="M49.500 282v18.500H31z" stroke="none" stroke-width="0" fill="#6e6e6e" /><rect x="53.0" y="278.0" width="29.0" height="27.0" fill="#5c5c5c"/><line x1="53.0" y1="304.3" x2="82.0" y2="304.3" stroke="#1f8a52" stroke-width="1.6" /><text x="67.5" y="298.6" font-size="22.5" fill="#f0f0f0" text-anchor="middle">A</text><line x1="82.0" y1="279.0" x2="82.0" y2="305.0" stroke="#4d4d4d" stroke-width="1.3" /><text x="104.2" y="298.6" font-size="22.5" fill="#f0f0f0" text-anchor="middle">B</text><line x1="126.5" y1="279.0" x2="126.5" y2="305.0" stroke="#4d4d4d" stroke-width="1.3" /><text x="148.9" y="298.6" font-size="22.5" fill="#f0f0f0" text-anchor="middle">C</text><line x1="171.3" y1="279.0" x2="171.3" y2="305.0" stroke="#4d4d4d" stroke-width="1.3" /><text x="193.8" y="298.6" font-size="22.5" fill="#f0f0f0" text-anchor="middle">D</text><line x1="216.2" y1="279.0" x2="216.2" y2="305.0" stroke="#4d4d4d" stroke-width="1.3" /><text x="238.7" y="298.6" font-size="22.5" fill="#f0f0f0" text-anchor="middle">E</text><line x1="261.2" y1="279.0" x2="261.2" y2="305.0" stroke="#4d4d4d" stroke-width="1.3" /><text x="283.6" y="298.6" font-size="22.5" fill="#f0f0f0" text-anchor="middle">F</text><line x1="306.0" y1="279.0" x2="306.0" y2="305.0" stroke="#4d4d4d" stroke-width="1.3" /><text x="328.5" y="298.6" font-size="22.5" fill="#f0f0f0" text-anchor="middle">G</text><line x1="351.0" y1="279.0" x2="351.0" y2="305.0" stroke="#4d4d4d" stroke-width="1.3" /><text x="373.6" y="298.6" font-size="22.5" fill="#f0f0f0" text-anchor="middle">H</text><line x1="396.2" y1="279.0" x2="396.2" y2="305.0" stroke="#4d4d4d" stroke-width="1.3" /><text x="498.2" y="298.6" font-size="22.5" fill="#f0f0f0" text-anchor="middle">I</text><line x1="600.2" y1="279.0" x2="600.2" y2="305.0" stroke="#4d4d4d" stroke-width="1.3" /><text x="702.3" y="298.6" font-size="22.5" fill="#f0f0f0" text-anchor="middle">J</text><line x1="804.4" y1="279.0" x2="804.4" y2="305.0" stroke="#4d4d4d" stroke-width="1.3" /><text x="906.3" y="298.6" font-size="22.5" fill="#f0f0f0" text-anchor="middle">K</text><line x1="1008.3" y1="279.0" x2="1008.3" y2="305.0" stroke="#4d4d4d" stroke-width="1.3" /><text x="1110.3" y="298.6" font-size="22.5" fill="#f0f0f0" text-anchor="middle">L</text><line x1="1212.3" y1="279.0" x2="1212.3" y2="305.0" stroke="#4d4d4d" stroke-width="1.3" /><text x="1314.3" y="298.6" font-size="22.5" fill="#f0f0f0" text-anchor="middle">M</text><line x1="1416.4" y1="279.0" x2="1416.4" y2="305.0" stroke="#4d4d4d" stroke-width="1.3" /><text x="1518.3" y="298.6" font-size="22.5" fill="#f0f0f0" text-anchor="middle">N</text><line x1="1620.2" y1="279.0" x2="1620.2" y2="305.0" stroke="#4d4d4d" stroke-width="1.3" /><text x="1722.2" y="298.6" font-size="22.5" fill="#f0f0f0" text-anchor="middle">O</text><line x1="1824.3" y1="279.0" x2="1824.3" y2="305.0" stroke="#4d4d4d" stroke-width="1.3" /><text x="1876.8" y="298.6" font-size="22.5" fill="#f0f0f0" text-anchor="middle">P</text><line x1="1929.3" y1="279.0" x2="1929.3" y2="305.0" stroke="#4d4d4d" stroke-width="1.3" /><text x="2009.8" y="298.6" font-size="22.5" fill="#f0f0f0" text-anchor="middle">Q</text><line x1="2090.3" y1="279.0" x2="2090.3" y2="305.0" stroke="#4d4d4d" stroke-width="1.3" /><text x="2170.9" y="298.6" font-size="22.5" fill="#f0f0f0" text-anchor="middle">R</text><line x1="2251.4" y1="279.0" x2="2251.4" y2="305.0" stroke="#4d4d4d" stroke-width="1.3" /><text x="2331.9" y="298.6" font-size="22.5" fill="#f0f0f0" text-anchor="middle">S</text><line x1="2412.4" y1="279.0" x2="2412.4" y2="305.0" stroke="#4d4d4d" stroke-width="1.3" /><text x="2492.9" y="298.6" font-size="22.5" fill="#f0f0f0" text-anchor="middle">T</text><line x1="2573.4" y1="279.0" x2="2573.4" y2="305.0" stroke="#4d4d4d" stroke-width="1.3" /><text x="2653.9" y="298.6" font-size="22.5" fill="#f0f0f0" text-anchor="middle">U</text><line x1="2734.5" y1="279.0" x2="2734.5" y2="305.0" stroke="#4d4d4d" stroke-width="1.3" /><text x="2804.8" y="298.6" font-size="22.5" fill="#f0f0f0" text-anchor="middle">V</text><line x1="2895.0" y1="279.0" x2="2895.0" y2="305.0" stroke="#4d4d4d" stroke-width="1.3" /><line x1="53.0" y1="279.0" x2="53.0" y2="305.0" stroke="#4d4d4d" stroke-width="1.3" /></svg></div>
<div id="rowhdr" class="sec" style="left:11px;top:305px;width:42px;height:1365px;background:#0a0a0a;"><svg width="42" height="1365" viewBox="11 305 42 1365"><rect x="11.0" y="305.0" width="42.0" height="46.0" fill="#6b6b6b"/><line x1="52.3" y1="305.0" x2="52.3" y2="351.0" stroke="#1f8a52" stroke-width="1.6" /><text x="32.0" y="344.2" font-size="21.5" fill="#f0f0f0" text-anchor="middle">1</text><line x1="11.0" y1="351.0" x2="53.0" y2="351.0" stroke="#4d4d4d" stroke-width="1.3" /><text x="32.0" y="385.2" font-size="21.5" fill="#f0f0f0" text-anchor="middle">2</text><line x1="11.0" y1="392.0" x2="53.0" y2="392.0" stroke="#4d4d4d" stroke-width="1.3" /><text x="32.0" y="425.4" font-size="21.5" fill="#f0f0f0" text-anchor="middle">3</text><line x1="11.0" y1="432.2" x2="53.0" y2="432.2" stroke="#4d4d4d" stroke-width="1.3" /><text x="32.0" y="454.2" font-size="21.5" fill="#f0f0f0" text-anchor="middle">4</text><line x1="11.0" y1="461.0" x2="53.0" y2="461.0" stroke="#4d4d4d" stroke-width="1.3" /><text x="32.0" y="496.9" font-size="21.5" fill="#f0f0f0" text-anchor="middle">5</text><line x1="11.0" y1="503.7" x2="53.0" y2="503.7" stroke="#4d4d4d" stroke-width="1.3" /><text x="32.0" y="532.0" font-size="21.5" fill="#f0f0f0" text-anchor="middle">6</text><line x1="11.0" y1="538.8" x2="53.0" y2="538.8" stroke="#4d4d4d" stroke-width="1.3" /><text x="32.0" y="560.5" font-size="21.5" fill="#f0f0f0" text-anchor="middle">7</text><line x1="11.0" y1="567.3" x2="53.0" y2="567.3" stroke="#4d4d4d" stroke-width="1.3" /><line x1="11.0" y1="573.0" x2="53.0" y2="573.0" stroke="#4d4d4d" stroke-width="1.3" /><text x="32.0" y="595.5" font-size="21.5" fill="#f0f0f0" text-anchor="middle">9</text><line x1="11.0" y1="602.3" x2="53.0" y2="602.3" stroke="#4d4d4d" stroke-width="1.3" /><text x="32.0" y="624.5" font-size="21.5" fill="#f0f0f0" text-anchor="middle">10</text><line x1="11.0" y1="631.3" x2="53.0" y2="631.3" stroke="#4d4d4d" stroke-width="1.3" /><text x="32.0" y="653.5" font-size="21.5" fill="#f0f0f0" text-anchor="middle">11</text><line x1="11.0" y1="660.3" x2="53.0" y2="660.3" stroke="#4d4d4d" stroke-width="1.3" /><text x="32.0" y="682.6" font-size="21.5" fill="#f0f0f0" text-anchor="middle">12</text><line x1="11.0" y1="689.4" x2="53.0" y2="689.4" stroke="#4d4d4d" stroke-width="1.3" /><text x="32.0" y="711.5" font-size="21.5" fill="#f0f0f0" text-anchor="middle">13</text><line x1="11.0" y1="718.3" x2="53.0" y2="718.3" stroke="#4d4d4d" stroke-width="1.3" /><text x="32.0" y="740.6" font-size="21.5" fill="#f0f0f0" text-anchor="middle">14</text><line x1="11.0" y1="747.4" x2="53.0" y2="747.4" stroke="#4d4d4d" stroke-width="1.3" /><text x="32.0" y="762.7" font-size="21.5" fill="#f0f0f0" text-anchor="middle">15</text><line x1="11.0" y1="769.5" x2="53.0" y2="769.5" stroke="#4d4d4d" stroke-width="1.3" /><text x="32.0" y="804.7" font-size="21.5" fill="#f0f0f0" text-anchor="middle">16</text><line x1="11.0" y1="811.5" x2="53.0" y2="811.5" stroke="#4d4d4d" stroke-width="1.3" /><text x="32.0" y="833.7" font-size="21.5" fill="#f0f0f0" text-anchor="middle">17</text><line x1="11.0" y1="840.5" x2="53.0" y2="840.5" stroke="#4d4d4d" stroke-width="1.3" /><text x="32.0" y="862.7" font-size="21.5" fill="#f0f0f0" text-anchor="middle">18</text><line x1="11.0" y1="869.5" x2="53.0" y2="869.5" stroke="#4d4d4d" stroke-width="1.3" /><text x="32.0" y="891.8" font-size="21.5" fill="#f0f0f0" text-anchor="middle">19</text><line x1="11.0" y1="898.6" x2="53.0" y2="898.6" stroke="#4d4d4d" stroke-width="1.3" /><text x="32.0" y="920.8" font-size="21.5" fill="#f0f0f0" text-anchor="middle">20</text><line x1="11.0" y1="927.6" x2="53.0" y2="927.6" stroke="#4d4d4d" stroke-width="1.3" /><text x="32.0" y="949.8" font-size="21.5" fill="#f0f0f0" text-anchor="middle">21</text><line x1="11.0" y1="956.6" x2="53.0" y2="956.6" stroke="#4d4d4d" stroke-width="1.3" /><text x="32.0" y="978.8" font-size="21.5" fill="#f0f0f0" text-anchor="middle">22</text><line x1="11.0" y1="985.6" x2="53.0" y2="985.6" stroke="#4d4d4d" stroke-width="1.3" /><text x="32.0" y="1007.8" font-size="21.5" fill="#f0f0f0" text-anchor="middle">23</text><line x1="11.0" y1="1014.6" x2="53.0" y2="1014.6" stroke="#4d4d4d" stroke-width="1.3" /><text x="32.0" y="1036.9" font-size="21.5" fill="#f0f0f0" text-anchor="middle">24</text><line x1="11.0" y1="1043.7" x2="53.0" y2="1043.7" stroke="#4d4d4d" stroke-width="1.3" /><text x="32.0" y="1065.9" font-size="21.5" fill="#f0f0f0" text-anchor="middle">25</text><line x1="11.0" y1="1072.7" x2="53.0" y2="1072.7" stroke="#4d4d4d" stroke-width="1.3" /><text x="32.0" y="1094.9" font-size="21.5" fill="#f0f0f0" text-anchor="middle">26</text><line x1="11.0" y1="1101.7" x2="53.0" y2="1101.7" stroke="#4d4d4d" stroke-width="1.3" /><text x="32.0" y="1123.9" font-size="21.5" fill="#f0f0f0" text-anchor="middle">27</text><line x1="11.0" y1="1130.7" x2="53.0" y2="1130.7" stroke="#4d4d4d" stroke-width="1.3" /><text x="32.0" y="1152.9" font-size="21.5" fill="#f0f0f0" text-anchor="middle">28</text><line x1="11.0" y1="1159.7" x2="53.0" y2="1159.7" stroke="#4d4d4d" stroke-width="1.3" /><text x="32.0" y="1182.0" font-size="21.5" fill="#f0f0f0" text-anchor="middle">29</text><line x1="11.0" y1="1188.8" x2="53.0" y2="1188.8" stroke="#4d4d4d" stroke-width="1.3" /><text x="32.0" y="1211.0" font-size="21.5" fill="#f0f0f0" text-anchor="middle">30</text><line x1="11.0" y1="1217.8" x2="53.0" y2="1217.8" stroke="#4d4d4d" stroke-width="1.3" /><text x="32.0" y="1240.0" font-size="21.5" fill="#f0f0f0" text-anchor="middle">31</text><line x1="11.0" y1="1246.8" x2="53.0" y2="1246.8" stroke="#4d4d4d" stroke-width="1.3" /><text x="32.0" y="1269.0" font-size="21.5" fill="#f0f0f0" text-anchor="middle">32</text><line x1="11.0" y1="1275.8" x2="53.0" y2="1275.8" stroke="#4d4d4d" stroke-width="1.3" /><text x="32.0" y="1298.0" font-size="21.5" fill="#f0f0f0" text-anchor="middle">33</text><line x1="11.0" y1="1304.8" x2="53.0" y2="1304.8" stroke="#4d4d4d" stroke-width="1.3" /><text x="32.0" y="1327.1" font-size="21.5" fill="#f0f0f0" text-anchor="middle">34</text><line x1="11.0" y1="1333.9" x2="53.0" y2="1333.9" stroke="#4d4d4d" stroke-width="1.3" /><text x="32.0" y="1356.1" font-size="21.5" fill="#f0f0f0" text-anchor="middle">35</text><line x1="11.0" y1="1362.9" x2="53.0" y2="1362.9" stroke="#4d4d4d" stroke-width="1.3" /><text x="32.0" y="1385.1" font-size="21.5" fill="#f0f0f0" text-anchor="middle">36</text><line x1="11.0" y1="1391.9" x2="53.0" y2="1391.9" stroke="#4d4d4d" stroke-width="1.3" /><text x="32.0" y="1414.1" font-size="21.5" fill="#f0f0f0" text-anchor="middle">37</text><line x1="11.0" y1="1420.9" x2="53.0" y2="1420.9" stroke="#4d4d4d" stroke-width="1.3" /><text x="32.0" y="1443.1" font-size="21.5" fill="#f0f0f0" text-anchor="middle">38</text><line x1="11.0" y1="1449.9" x2="53.0" y2="1449.9" stroke="#4d4d4d" stroke-width="1.3" /><text x="32.0" y="1472.2" font-size="21.5" fill="#f0f0f0" text-anchor="middle">39</text><line x1="11.0" y1="1479.0" x2="53.0" y2="1479.0" stroke="#4d4d4d" stroke-width="1.3" /><text x="32.0" y="1501.2" font-size="21.5" fill="#f0f0f0" text-anchor="middle">40</text><line x1="11.0" y1="1508.0" x2="53.0" y2="1508.0" stroke="#4d4d4d" stroke-width="1.3" /><text x="32.0" y="1530.2" font-size="21.5" fill="#f0f0f0" text-anchor="middle">41</text><line x1="11.0" y1="1537.0" x2="53.0" y2="1537.0" stroke="#4d4d4d" stroke-width="1.3" /><text x="32.0" y="1572.2" font-size="21.5" fill="#f0f0f0" text-anchor="middle">42</text><line x1="11.0" y1="1579.0" x2="53.0" y2="1579.0" stroke="#4d4d4d" stroke-width="1.3" /><text x="32.0" y="1601.5" font-size="21.5" fill="#f0f0f0" text-anchor="middle">43</text><line x1="11.0" y1="1608.3" x2="53.0" y2="1608.3" stroke="#4d4d4d" stroke-width="1.3" /><text x="32.0" y="1630.5" font-size="21.5" fill="#f0f0f0" text-anchor="middle">44</text><line x1="11.0" y1="1637.3" x2="53.0" y2="1637.3" stroke="#4d4d4d" stroke-width="1.3" /><text x="32.0" y="1660.6" font-size="21.5" fill="#f0f0f0" text-anchor="middle">45</text><line x1="11.0" y1="1667.4" x2="53.0" y2="1667.4" stroke="#4d4d4d" stroke-width="1.3" /><text x="32.0" y="1689.2" font-size="21.5" fill="#f0f0f0" text-anchor="middle">46</text><line x1="11.0" y1="1696.0" x2="53.0" y2="1696.0" stroke="#4d4d4d" stroke-width="1.3" /></svg></div>
<main id="sheet" class="sec" style="left:53px;top:305px;width:2807px;height:1365px;background:#fff;"><svg width="2807" height="1365" viewBox="53 305 2807 1365"><text x="89.3" y="342.3" font-size="38" fill="#222" font-weight="bold" class="th" textLength="253.7" lengthAdjust="spacingAndGlyphs" stroke="#222" stroke-width="0.5">Top Revenue</text><text x="88.3" y="383.3" font-size="33" fill="#000" font-weight="bold" class="th" textLength="313.5" lengthAdjust="spacingAndGlyphs" stroke="#000" stroke-width="0.8">ABC Company Inc.</text><text x="86.0" y="420.3" font-size="22" fill="#2a7de9" font-weight="bold" class="th" textLength="258.0" lengthAdjust="spacingAndGlyphs" stroke="#2a7de9" stroke-width="0.4">Go to Table of Contents</text><line x1="86.0" y1="423.2" x2="344.0" y2="423.2" stroke="#2a7de9" stroke-width="2.2" /><line x1="53.0" y1="461.0" x2="82.0" y2="461.0" stroke="#9a9a9a" stroke-width="1" /><rect x="82.0" y="461.6" width="2778.0" height="42.0" fill="#4b4fd0"/><line x1="600.2" y1="503.2" x2="1620.2" y2="503.2" stroke="#e9e9ff" stroke-width="1" /><text x="966.0" y="495.0" font-size="34" fill="#fff" font-weight="bold" class="th" textLength="1024.0" lengthAdjust="spacingAndGlyphs" stroke="#fff" stroke-width="0.3">Top 5 Revenue Streams ($'000) - 5 years to December 2030</text><rect x="82.0" y="539.2" width="1538.2" height="27.6" fill="#6f73e6"/><rect x="1929.3" y="539.2" width="805.2" height="27.6" fill="#6f73e6"/><line x1="600.2" y1="539.2" x2="600.2" y2="566.8" stroke="#fff" stroke-width="1.6" /><line x1="804.4" y1="539.2" x2="804.4" y2="566.8" stroke="#fff" stroke-width="1.6" /><line x1="1008.3" y1="539.2" x2="1008.3" y2="566.8" stroke="#fff" stroke-width="1.6" /><line x1="1212.3" y1="539.2" x2="1212.3" y2="566.8" stroke="#fff" stroke-width="1.6" /><line x1="1416.4" y1="539.2" x2="1416.4" y2="566.8" stroke="#fff" stroke-width="1.6" /><line x1="2090.3" y1="539.2" x2="2090.3" y2="566.8" stroke="#fff" stroke-width="1.6" /><line x1="2251.4" y1="539.2" x2="2251.4" y2="566.8" stroke="#fff" stroke-width="1.6" /><line x1="2412.4" y1="539.2" x2="2412.4" y2="566.8" stroke="#fff" stroke-width="1.6" /><line x1="2573.4" y1="539.2" x2="2573.4" y2="566.8" stroke="#fff" stroke-width="1.6" /><text x="97.0" y="561.3" font-size="22" fill="#fff" font-weight="bold" class="th" textLength="132.7" lengthAdjust="spacingAndGlyphs">Year Ending</text><text x="703.1" y="561.3" font-size="22" fill="#fff" font-weight="bold" text-anchor="middle" class="th" textLength="55.0" lengthAdjust="spacingAndGlyphs">2026</text><text x="907.1" y="561.3" font-size="22" fill="#fff" font-weight="bold" text-anchor="middle" class="th" textLength="55.0" lengthAdjust="spacingAndGlyphs">2027</text><text x="1111.1" y="561.3" font-size="22" fill="#fff" font-weight="bold" text-anchor="middle" class="th" textLength="55.0" lengthAdjust="spacingAndGlyphs">2028</text><text x="1315.1" y="561.3" font-size="22" fill="#fff" font-weight="bold" text-anchor="middle" class="th" textLength="55.0" lengthAdjust="spacingAndGlyphs">2029</text><text x="1519.1" y="561.3" font-size="22" fill="#fff" font-weight="bold" text-anchor="middle" class="th" textLength="55.0" lengthAdjust="spacingAndGlyphs">2030</text><text x="2010.3" y="561.0" font-size="22" fill="#fff" font-weight="bold" text-anchor="middle" class="th" textLength="55.0" lengthAdjust="spacingAndGlyphs">2026</text><text x="2171.4" y="561.0" font-size="22" fill="#fff" font-weight="bold" text-anchor="middle" class="th" textLength="55.0" lengthAdjust="spacingAndGlyphs">2027</text><text x="2332.4" y="561.0" font-size="22" fill="#fff" font-weight="bold" text-anchor="middle" class="th" textLength="55.0" lengthAdjust="spacingAndGlyphs">2028</text><text x="2493.4" y="561.0" font-size="22" fill="#fff" font-weight="bold" text-anchor="middle" class="th" textLength="55.0" lengthAdjust="spacingAndGlyphs">2029</text><text x="2654.4" y="561.0" font-size="22" fill="#fff" font-weight="bold" text-anchor="middle" class="th" textLength="55.0" lengthAdjust="spacingAndGlyphs">2030</text><text x="85.6" y="595.8" font-size="21" fill="#000" class="th" textLength="188.0" lengthAdjust="spacingAndGlyphs">Full-Stack Web Dev</text><text x="792.4" y="595.8" font-size="21" fill="#000" text-anchor="end" class="th" textLength="52.8" lengthAdjust="spacingAndGlyphs">1,404</text><text x="996.3" y="595.8" font-size="21" fill="#000" text-anchor="end" class="th" textLength="52.8" lengthAdjust="spacingAndGlyphs">1,946</text><text x="1200.3" y="595.8" font-size="21" fill="#000" text-anchor="end" class="th" textLength="52.8" lengthAdjust="spacingAndGlyphs">2,691</text><text x="1404.4" y="595.8" font-size="21" fill="#000" text-anchor="end" class="th" textLength="52.8" lengthAdjust="spacingAndGlyphs">3,703</text><text x="1608.2" y="595.8" font-size="21" fill="#000" text-anchor="end" class="th" textLength="52.8" lengthAdjust="spacingAndGlyphs">4,738</text><text x="2075.7" y="595.3" font-size="21" fill="#000" text-anchor="end" class="th" font-style="italic" textLength="63.0" lengthAdjust="spacingAndGlyphs">38.0%</text><text x="2236.8" y="595.3" font-size="21" fill="#000" text-anchor="end" class="th" font-style="italic" textLength="63.0" lengthAdjust="spacingAndGlyphs">36.3%</text><text x="2397.8" y="595.3" font-size="21" fill="#000" text-anchor="end" class="th" font-style="italic" textLength="63.0" lengthAdjust="spacingAndGlyphs">36.0%</text><text x="2558.8" y="595.3" font-size="21" fill="#000" text-anchor="end" class="th" font-style="italic" textLength="63.0" lengthAdjust="spacingAndGlyphs">35.9%</text><text x="2719.9" y="595.3" font-size="21" fill="#000" text-anchor="end" class="th" font-style="italic" textLength="63.0" lengthAdjust="spacingAndGlyphs">35.1%</text><text x="85.6" y="624.8" font-size="21" fill="#000" class="th" textLength="127.9" lengthAdjust="spacingAndGlyphs">UX UI Design</text><text x="792.4" y="624.8" font-size="21" fill="#000" text-anchor="end" class="th" textLength="52.8" lengthAdjust="spacingAndGlyphs">1,080</text><text x="996.3" y="624.8" font-size="21" fill="#000" text-anchor="end" class="th" textLength="52.8" lengthAdjust="spacingAndGlyphs">1,705</text><text x="1200.3" y="624.8" font-size="21" fill="#000" text-anchor="end" class="th" textLength="52.8" lengthAdjust="spacingAndGlyphs">2,368</text><text x="1404.4" y="624.8" font-size="21" fill="#000" text-anchor="end" class="th" textLength="52.8" lengthAdjust="spacingAndGlyphs">3,397</text><text x="1608.2" y="624.8" font-size="21" fill="#000" text-anchor="end" class="th" textLength="52.8" lengthAdjust="spacingAndGlyphs">4,461</text><text x="2075.7" y="624.3" font-size="21" fill="#000" text-anchor="end" class="th" font-style="italic" textLength="63.0" lengthAdjust="spacingAndGlyphs">29.2%</text><text x="2236.8" y="624.3" font-size="21" fill="#000" text-anchor="end" class="th" font-style="italic" textLength="63.0" lengthAdjust="spacingAndGlyphs">31.8%</text><text x="2397.8" y="624.3" font-size="21" fill="#000" text-anchor="end" class="th" font-style="italic" textLength="63.0" lengthAdjust="spacingAndGlyphs">31.7%</text><text x="2558.8" y="624.3" font-size="21" fill="#000" text-anchor="end" class="th" font-style="italic" textLength="63.0" lengthAdjust="spacingAndGlyphs">33.0%</text><text x="2719.9" y="624.3" font-size="21" fill="#000" text-anchor="end" class="th" font-style="italic" textLength="63.0" lengthAdjust="spacingAndGlyphs">33.1%</text><text x="85.6" y="653.8" font-size="21" fill="#000" class="th" textLength="152.8" lengthAdjust="spacingAndGlyphs">Data Science AI</text><text x="792.4" y="653.8" font-size="21" fill="#000" text-anchor="end" class="th" textLength="52.8" lengthAdjust="spacingAndGlyphs">1,215</text><text x="996.3" y="653.8" font-size="21" fill="#000" text-anchor="end" class="th" textLength="52.8" lengthAdjust="spacingAndGlyphs">1,708</text><text x="1200.3" y="653.8" font-size="21" fill="#000" text-anchor="end" class="th" textLength="52.8" lengthAdjust="spacingAndGlyphs">2,407</text><text x="1404.4" y="653.8" font-size="21" fill="#000" text-anchor="end" class="th" textLength="52.8" lengthAdjust="spacingAndGlyphs">3,204</text><text x="1608.2" y="653.8" font-size="21" fill="#000" text-anchor="end" class="th" textLength="52.8" lengthAdjust="spacingAndGlyphs">4,286</text><text x="2075.7" y="653.3" font-size="21" fill="#000" text-anchor="end" class="th" font-style="italic" textLength="63.0" lengthAdjust="spacingAndGlyphs">32.8%</text><text x="2236.8" y="653.3" font-size="21" fill="#000" text-anchor="end" class="th" font-style="italic" textLength="63.0" lengthAdjust="spacingAndGlyphs">31.9%</text><text x="2397.8" y="653.3" font-size="21" fill="#000" text-anchor="end" class="th" font-style="italic" textLength="63.0" lengthAdjust="spacingAndGlyphs">32.2%</text><text x="2558.8" y="653.3" font-size="21" fill="#000" text-anchor="end" class="th" font-style="italic" textLength="63.0" lengthAdjust="spacingAndGlyphs">31.1%</text><text x="2719.9" y="653.3" font-size="21" fill="#000" text-anchor="end" class="th" font-style="italic" textLength="63.0" lengthAdjust="spacingAndGlyphs">31.8%</text><text x="85.6" y="682.9" font-size="21" fill="#000" class="th" textLength="6.7" lengthAdjust="spacingAndGlyphs">-</text><text x="768.4" y="682.9" font-size="21" fill="#000" text-anchor="end" class="th">-</text><text x="972.3" y="682.9" font-size="21" fill="#000" text-anchor="end" class="th">-</text><text x="1176.3" y="682.9" font-size="21" fill="#000" text-anchor="end" class="th">-</text><text x="1380.4" y="682.9" font-size="21" fill="#000" text-anchor="end" class="th">-</text><text x="1584.2" y="682.9" font-size="21" fill="#000" text-anchor="end" class="th">-</text><text x="2076.8" y="682.4" font-size="21" fill="#000" text-anchor="end" class="th" font-style="italic">-</text><text x="2237.9" y="682.4" font-size="21" fill="#000" text-anchor="end" class="th" font-style="italic">-</text><text x="2398.9" y="682.4" font-size="21" fill="#000" text-anchor="end" class="th" font-style="italic">-</text><text x="2559.9" y="682.4" font-size="21" fill="#000" text-anchor="end" class="th" font-style="italic">-</text><text x="2721.0" y="682.4" font-size="21" fill="#000" text-anchor="end" class="th" font-style="italic">-</text><text x="85.6" y="711.8" font-size="21" fill="#000" class="th" textLength="146.5" lengthAdjust="spacingAndGlyphs">Other Revenue</text><text x="768.4" y="711.8" font-size="21" fill="#000" text-anchor="end" class="th">-</text><text x="972.3" y="711.8" font-size="21" fill="#000" text-anchor="end" class="th">-</text><text x="1176.3" y="711.8" font-size="21" fill="#000" text-anchor="end" class="th">-</text><text x="1380.4" y="711.8" font-size="21" fill="#000" text-anchor="end" class="th">-</text><text x="1584.2" y="711.8" font-size="21" fill="#000" text-anchor="end" class="th">-</text><text x="2076.8" y="711.3" font-size="21" fill="#000" text-anchor="end" class="th" font-style="italic">-</text><text x="2237.9" y="711.3" font-size="21" fill="#000" text-anchor="end" class="th" font-style="italic">-</text><text x="2398.9" y="711.3" font-size="21" fill="#000" text-anchor="end" class="th" font-style="italic">-</text><text x="2559.9" y="711.3" font-size="21" fill="#000" text-anchor="end" class="th" font-style="italic">-</text><text x="2721.0" y="711.3" font-size="21" fill="#000" text-anchor="end" class="th" font-style="italic">-</text><rect x="81.5" y="718.0" width="1539.0" height="29.6" fill="#4ab1e6"/><rect x="1928.9" y="717.5" width="806.0" height="30.0" fill="#4ab1e6"/><text x="97.4" y="742.8" font-size="24" fill="#fff" font-weight="bold" class="th" textLength="178.6" lengthAdjust="spacingAndGlyphs">Total Revenue</text><text x="789.8" y="742.4" font-size="22" fill="#fff" font-weight="bold" text-anchor="end" class="th" textLength="61.7" lengthAdjust="spacingAndGlyphs">3,699</text><text x="993.7" y="742.4" font-size="22" fill="#fff" font-weight="bold" text-anchor="end" class="th" textLength="61.7" lengthAdjust="spacingAndGlyphs">5,358</text><text x="1197.7" y="742.4" font-size="22" fill="#fff" font-weight="bold" text-anchor="end" class="th" textLength="61.7" lengthAdjust="spacingAndGlyphs">7,466</text><text x="1401.8" y="742.4" font-size="22" fill="#fff" font-weight="bold" text-anchor="end" class="th" textLength="75.9" lengthAdjust="spacingAndGlyphs">10,304</text><text x="1605.6" y="742.4" font-size="22" fill="#fff" font-weight="bold" text-anchor="end" class="th" textLength="75.9" lengthAdjust="spacingAndGlyphs">13,485</text><text x="2083.3" y="742.0" font-size="22" fill="#fff" font-weight="bold" text-anchor="end" class="th" font-style="italic" textLength="66.3" lengthAdjust="spacingAndGlyphs">100%</text><text x="2244.4" y="742.0" font-size="22" fill="#fff" font-weight="bold" text-anchor="end" class="th" font-style="italic" textLength="66.3" lengthAdjust="spacingAndGlyphs">100%</text><text x="2405.4" y="742.0" font-size="22" fill="#fff" font-weight="bold" text-anchor="end" class="th" font-style="italic" textLength="66.3" lengthAdjust="spacingAndGlyphs">100%</text><text x="2566.4" y="742.0" font-size="22" fill="#fff" font-weight="bold" text-anchor="end" class="th" font-style="italic" textLength="66.3" lengthAdjust="spacingAndGlyphs">100%</text><text x="2727.5" y="742.0" font-size="22" fill="#fff" font-weight="bold" text-anchor="end" class="th" font-style="italic" textLength="66.3" lengthAdjust="spacingAndGlyphs">100%</text><rect x="82.0" y="769.5" width="2778.0" height="42.0" fill="#4b4fd0"/><text x="966.0" y="802.8" font-size="34" fill="#fff" font-weight="bold" class="th" textLength="1024.0" lengthAdjust="spacingAndGlyphs" stroke="#fff" stroke-width="0.3">Top 5 Revenue Streams ($'000) - 5 years to December 2030</text><line x1="175.3" y1="1491.5" x2="1618.5" y2="1491.5" stroke="#5f7cb0" stroke-width="1.3" /><text x="153.6" y="1498.8" font-size="20" fill="#000" font-weight="bold" text-anchor="end" class="th" textLength="39.6" lengthAdjust="spacingAndGlyphs" stroke="#000" stroke-width="0.4">0%</text><line x1="175.3" y1="1427.7" x2="1618.5" y2="1427.7" stroke="#5f7cb0" stroke-width="1.3" /><text x="153.6" y="1435.0" font-size="20" fill="#000" font-weight="bold" text-anchor="end" class="th" textLength="54.2" lengthAdjust="spacingAndGlyphs" stroke="#000" stroke-width="0.4">10%</text><line x1="175.3" y1="1364.0" x2="1618.5" y2="1364.0" stroke="#5f7cb0" stroke-width="1.3" /><text x="153.6" y="1371.2" font-size="20" fill="#000" font-weight="bold" text-anchor="end" class="th" textLength="54.2" lengthAdjust="spacingAndGlyphs" stroke="#000" stroke-width="0.4">20%</text><line x1="175.3" y1="1300.2" x2="1618.5" y2="1300.2" stroke="#5f7cb0" stroke-width="1.3" /><text x="153.6" y="1307.5" font-size="20" fill="#000" font-weight="bold" text-anchor="end" class="th" textLength="54.2" lengthAdjust="spacingAndGlyphs" stroke="#000" stroke-width="0.4">30%</text><line x1="175.3" y1="1236.4" x2="1618.5" y2="1236.4" stroke="#5f7cb0" stroke-width="1.3" /><text x="153.6" y="1243.7" font-size="20" fill="#000" font-weight="bold" text-anchor="end" class="th" textLength="54.2" lengthAdjust="spacingAndGlyphs" stroke="#000" stroke-width="0.4">40%</text><line x1="175.3" y1="1172.6" x2="1618.5" y2="1172.6" stroke="#5f7cb0" stroke-width="1.3" /><text x="153.6" y="1179.9" font-size="20" fill="#000" font-weight="bold" text-anchor="end" class="th" textLength="54.2" lengthAdjust="spacingAndGlyphs" stroke="#000" stroke-width="0.4">50%</text><line x1="175.3" y1="1108.8" x2="1618.5" y2="1108.8" stroke="#5f7cb0" stroke-width="1.3" /><text x="153.6" y="1116.1" font-size="20" fill="#000" font-weight="bold" text-anchor="end" class="th" textLength="54.2" lengthAdjust="spacingAndGlyphs" stroke="#000" stroke-width="0.4">60%</text><line x1="175.3" y1="1045.1" x2="1618.5" y2="1045.1" stroke="#5f7cb0" stroke-width="1.3" /><text x="153.6" y="1052.4" font-size="20" fill="#000" font-weight="bold" text-anchor="end" class="th" textLength="54.2" lengthAdjust="spacingAndGlyphs" stroke="#000" stroke-width="0.4">70%</text><line x1="175.3" y1="981.3" x2="1618.5" y2="981.3" stroke="#5f7cb0" stroke-width="1.3" /><text x="153.6" y="988.6" font-size="20" fill="#000" font-weight="bold" text-anchor="end" class="th" textLength="54.2" lengthAdjust="spacingAndGlyphs" stroke="#000" stroke-width="0.4">80%</text><line x1="175.3" y1="917.5" x2="1618.5" y2="917.5" stroke="#5f7cb0" stroke-width="1.3" /><text x="153.6" y="924.8" font-size="20" fill="#000" font-weight="bold" text-anchor="end" class="th" textLength="54.2" lengthAdjust="spacingAndGlyphs" stroke="#000" stroke-width="0.4">90%</text><line x1="175.3" y1="853.8" x2="1618.5" y2="853.8" stroke="#5f7cb0" stroke-width="1.3" /><text x="153.6" y="861.0" font-size="20" fill="#000" font-weight="bold" text-anchor="end" class="th" textLength="67.6" lengthAdjust="spacingAndGlyphs" stroke="#000" stroke-width="0.4">100%</text><rect x="224.4" y="1249.4" width="192.4" height="242.1" fill="#4ab1e6"/><rect x="224.4" y="1063.2" width="192.4" height="186.2" fill="#4b4fd0"/><rect x="224.4" y="853.8" width="192.4" height="209.5" fill="#f07c70"/><rect x="280.1" y="1353.0" width="81.0" height="35.0" fill="#deeaf6"/><text x="323.9" y="1378.2" font-size="20.5" fill="#000" font-weight="bold" text-anchor="middle" class="th" textLength="63.0" lengthAdjust="spacingAndGlyphs" stroke="#000" stroke-width="0.4">1,404</text><rect x="277.0" y="1138.8" width="87.2" height="35.0" fill="#aeb0ec"/><text x="323.9" y="1164.0" font-size="20.5" fill="#000" font-weight="bold" text-anchor="middle" class="th" textLength="63.0" lengthAdjust="spacingAndGlyphs" stroke="#000" stroke-width="0.4">1,080</text><rect x="277.0" y="941.0" width="87.2" height="35.0" fill="#f8cbad"/><text x="323.9" y="966.2" font-size="20.5" fill="#000" font-weight="bold" text-anchor="middle" class="th" textLength="63.0" lengthAdjust="spacingAndGlyphs" stroke="#000" stroke-width="0.4">1,215</text><rect x="304.1" y="835.8" width="33.0" height="36.0" fill="#e2efd9"/><text x="320.6" y="861.5" font-size="20.5" fill="#000" font-weight="bold" text-anchor="middle" class="th" textLength="13.2" lengthAdjust="spacingAndGlyphs" stroke="#000" stroke-width="0.4">0</text><text x="320.6" y="1527.7" font-size="20.5" fill="#000" font-weight="bold" text-anchor="middle" class="th" textLength="56.0" lengthAdjust="spacingAndGlyphs" stroke="#000" stroke-width="0.4">2026</text><rect x="513.0" y="1259.9" width="192.4" height="231.6" fill="#4ab1e6"/><rect x="513.0" y="1057.0" width="192.4" height="202.9" fill="#4b4fd0"/><rect x="513.0" y="853.8" width="192.4" height="203.3" fill="#f07c70"/><rect x="568.8" y="1358.2" width="81.0" height="35.0" fill="#deeaf6"/><text x="612.6" y="1383.4" font-size="20.5" fill="#000" font-weight="bold" text-anchor="middle" class="th" textLength="63.0" lengthAdjust="spacingAndGlyphs" stroke="#000" stroke-width="0.4">1,946</text><rect x="565.7" y="1141.0" width="87.2" height="35.0" fill="#aeb0ec"/><text x="612.6" y="1166.2" font-size="20.5" fill="#000" font-weight="bold" text-anchor="middle" class="th" textLength="63.0" lengthAdjust="spacingAndGlyphs" stroke="#000" stroke-width="0.4">1,705</text><rect x="565.7" y="937.9" width="87.2" height="35.0" fill="#f8cbad"/><text x="612.6" y="963.1" font-size="20.5" fill="#000" font-weight="bold" text-anchor="middle" class="th" textLength="63.0" lengthAdjust="spacingAndGlyphs" stroke="#000" stroke-width="0.4">1,708</text><rect x="592.8" y="835.8" width="33.0" height="36.0" fill="#e2efd9"/><text x="609.3" y="861.5" font-size="20.5" fill="#000" font-weight="bold" text-anchor="middle" class="th" textLength="13.2" lengthAdjust="spacingAndGlyphs" stroke="#000" stroke-width="0.4">0</text><text x="609.3" y="1527.7" font-size="20.5" fill="#000" font-weight="bold" text-anchor="middle" class="th" textLength="56.0" lengthAdjust="spacingAndGlyphs" stroke="#000" stroke-width="0.4">2027</text><rect x="801.7" y="1261.6" width="192.4" height="229.9" fill="#4ab1e6"/><rect x="801.7" y="1059.4" width="192.4" height="202.3" fill="#4b4fd0"/><rect x="801.7" y="853.8" width="192.4" height="205.6" fill="#f07c70"/><rect x="857.4" y="1359.1" width="81.0" height="35.0" fill="#deeaf6"/><text x="901.2" y="1384.3" font-size="20.5" fill="#000" font-weight="bold" text-anchor="middle" class="th" textLength="63.0" lengthAdjust="spacingAndGlyphs" stroke="#000" stroke-width="0.4">2,691</text><rect x="854.3" y="1143.0" width="87.2" height="35.0" fill="#aeb0ec"/><text x="901.2" y="1168.2" font-size="20.5" fill="#000" font-weight="bold" text-anchor="middle" class="th" textLength="63.0" lengthAdjust="spacingAndGlyphs" stroke="#000" stroke-width="0.4">2,368</text><rect x="854.3" y="939.1" width="87.2" height="35.0" fill="#f8cbad"/><text x="901.2" y="964.3" font-size="20.5" fill="#000" font-weight="bold" text-anchor="middle" class="th" textLength="63.0" lengthAdjust="spacingAndGlyphs" stroke="#000" stroke-width="0.4">2,407</text><rect x="881.4" y="835.8" width="33.0" height="36.0" fill="#e2efd9"/><text x="897.9" y="861.5" font-size="20.5" fill="#000" font-weight="bold" text-anchor="middle" class="th" textLength="13.2" lengthAdjust="spacingAndGlyphs" stroke="#000" stroke-width="0.4">0</text><text x="897.9" y="1527.7" font-size="20.5" fill="#000" font-weight="bold" text-anchor="middle" class="th" textLength="56.0" lengthAdjust="spacingAndGlyphs" stroke="#000" stroke-width="0.4">2028</text><rect x="1090.3" y="1262.3" width="192.4" height="229.2" fill="#4ab1e6"/><rect x="1090.3" y="1052.1" width="192.4" height="210.3" fill="#4b4fd0"/><rect x="1090.3" y="853.8" width="192.4" height="198.3" fill="#f07c70"/><rect x="1146.0" y="1359.4" width="81.0" height="35.0" fill="#deeaf6"/><text x="1189.8" y="1384.6" font-size="20.5" fill="#000" font-weight="bold" text-anchor="middle" class="th" textLength="63.0" lengthAdjust="spacingAndGlyphs" stroke="#000" stroke-width="0.4">3,703</text><rect x="1142.9" y="1139.7" width="87.2" height="35.0" fill="#aeb0ec"/><text x="1189.8" y="1164.9" font-size="20.5" fill="#000" font-weight="bold" text-anchor="middle" class="th" textLength="63.0" lengthAdjust="spacingAndGlyphs" stroke="#000" stroke-width="0.4">3,397</text><rect x="1142.9" y="935.4" width="87.2" height="35.0" fill="#f8cbad"/><text x="1189.8" y="960.6" font-size="20.5" fill="#000" font-weight="bold" text-anchor="middle" class="th" textLength="63.0" lengthAdjust="spacingAndGlyphs" stroke="#000" stroke-width="0.4">3,204</text><rect x="1170.0" y="835.8" width="33.0" height="36.0" fill="#e2efd9"/><text x="1186.5" y="861.5" font-size="20.5" fill="#000" font-weight="bold" text-anchor="middle" class="th" textLength="13.2" lengthAdjust="spacingAndGlyphs" stroke="#000" stroke-width="0.4">0</text><text x="1186.5" y="1527.7" font-size="20.5" fill="#000" font-weight="bold" text-anchor="middle" class="th" textLength="56.0" lengthAdjust="spacingAndGlyphs" stroke="#000" stroke-width="0.4">2029</text><rect x="1379.0" y="1267.4" width="192.4" height="224.1" fill="#4ab1e6"/><rect x="1379.0" y="1056.4" width="192.4" height="211.0" fill="#4b4fd0"/><rect x="1379.0" y="853.8" width="192.4" height="202.7" fill="#f07c70"/><rect x="1434.7" y="1362.0" width="81.0" height="35.0" fill="#deeaf6"/><text x="1478.5" y="1387.2" font-size="20.5" fill="#000" font-weight="bold" text-anchor="middle" class="th" textLength="63.0" lengthAdjust="spacingAndGlyphs" stroke="#000" stroke-width="0.4">4,738</text><rect x="1431.6" y="1144.4" width="87.2" height="35.0" fill="#aeb0ec"/><text x="1478.5" y="1169.6" font-size="20.5" fill="#000" font-weight="bold" text-anchor="middle" class="th" textLength="63.0" lengthAdjust="spacingAndGlyphs" stroke="#000" stroke-width="0.4">4,461</text><rect x="1431.6" y="937.6" width="87.2" height="35.0" fill="#f8cbad"/><text x="1478.5" y="962.8" font-size="20.5" fill="#000" font-weight="bold" text-anchor="middle" class="th" textLength="63.0" lengthAdjust="spacingAndGlyphs" stroke="#000" stroke-width="0.4">4,286</text><rect x="1458.7" y="835.8" width="33.0" height="36.0" fill="#e2efd9"/><text x="1475.2" y="861.5" font-size="20.5" fill="#000" font-weight="bold" text-anchor="middle" class="th" textLength="13.2" lengthAdjust="spacingAndGlyphs" stroke="#000" stroke-width="0.4">0</text><text x="1475.2" y="1527.7" font-size="20.5" fill="#000" font-weight="bold" text-anchor="middle" class="th" textLength="56.0" lengthAdjust="spacingAndGlyphs" stroke="#000" stroke-width="0.4">2030</text><line x1="1644.2" y1="903.8" x2="1697.8" y2="903.8" stroke="#4ab1e6" stroke-width="3.6" stroke-linecap="round"/><circle cx="1670.5" cy="903.8" r="5.600" fill="#4ab1e6"/><text x="1703.6" y="911.4" font-size="20.5" fill="#000" font-weight="bold" class="th" textLength="218.7" lengthAdjust="spacingAndGlyphs" stroke="#000" stroke-width="0.4">Full-Stack Web Dev</text><line x1="1644.2" y1="1035.8" x2="1697.8" y2="1035.8" stroke="#4b4fd0" stroke-width="3.6" stroke-linecap="round"/><rect x="1665.0" y="1030.3" width="11.0" height="11.0" fill="#4b4fd0"/><text x="1703.6" y="1043.4" font-size="20.5" fill="#000" font-weight="bold" class="th" textLength="147.3" lengthAdjust="spacingAndGlyphs" stroke="#000" stroke-width="0.4">UX UI Design</text><line x1="1644.2" y1="1167.8" x2="1697.8" y2="1167.8" stroke="#f07c70" stroke-width="3.6" stroke-linecap="round"/><path d="M1670.5 1161.8L1676.5 1172.8H1664.5Z" stroke="none" stroke-width="0" fill="#f07c70" /><text x="1703.6" y="1175.4" font-size="20.5" fill="#000" font-weight="bold" class="th" textLength="176.5" lengthAdjust="spacingAndGlyphs" stroke="#000" stroke-width="0.4">Data Science AI</text><line x1="1644.2" y1="1299.8" x2="1697.8" y2="1299.8" stroke="#f5b21a" stroke-width="3.6" stroke-linecap="round"/><path d="M1665.5 1294.8L1675.5 1304.8M1675.5 1294.8L1665.5 1304.8" stroke="#f0c060" stroke-width="1.2" fill="none" /><text x="1703.6" y="1307.4" font-size="20.5" fill="#000" font-weight="bold" class="th" textLength="7.5" lengthAdjust="spacingAndGlyphs" stroke="#000" stroke-width="0.4">-</text><line x1="1644.2" y1="1431.8" x2="1697.8" y2="1431.8" stroke="#2bb5a0" stroke-width="3.6" stroke-linecap="round"/><rect x="1665.0" y="1426.3" width="11.0" height="11.0" fill="#5fae5a"/><text x="1703.6" y="1439.4" font-size="20.5" fill="#000" font-weight="bold" class="th" textLength="167.2" lengthAdjust="spacingAndGlyphs" stroke="#000" stroke-width="0.4">Other Revenue</text><line x1="2070.4" y1="1489.3" x2="2862.0" y2="1489.3" stroke="#7fbde0" stroke-width="1.4" /><text x="2042.0" y="1497.2" font-size="20.5" fill="#000" font-weight="bold" text-anchor="end" class="th" stroke="#000" stroke-width="0.4">-</text><line x1="2070.4" y1="1425.7" x2="2862.0" y2="1425.7" stroke="#7fbde0" stroke-width="1.4" /><text x="2042.0" y="1433.6" font-size="20.5" fill="#000" font-weight="bold" text-anchor="end" class="th" textLength="37.0" lengthAdjust="spacingAndGlyphs" stroke="#000" stroke-width="0.4">500</text><line x1="2070.4" y1="1362.1" x2="2862.0" y2="1362.1" stroke="#7fbde0" stroke-width="1.4" /><text x="2042.0" y="1370.0" font-size="20.5" fill="#000" font-weight="bold" text-anchor="end" class="th" textLength="62.8" lengthAdjust="spacingAndGlyphs" stroke="#000" stroke-width="0.4">1,000</text><line x1="2070.4" y1="1298.5" x2="2862.0" y2="1298.5" stroke="#7fbde0" stroke-width="1.4" /><text x="2042.0" y="1306.4" font-size="20.5" fill="#000" font-weight="bold" text-anchor="end" class="th" textLength="62.8" lengthAdjust="spacingAndGlyphs" stroke="#000" stroke-width="0.4">1,500</text><line x1="2070.4" y1="1234.9" x2="2862.0" y2="1234.9" stroke="#7fbde0" stroke-width="1.4" /><text x="2042.0" y="1242.8" font-size="20.5" fill="#000" font-weight="bold" text-anchor="end" class="th" textLength="62.8" lengthAdjust="spacingAndGlyphs" stroke="#000" stroke-width="0.4">2,000</text><line x1="2070.4" y1="1171.2" x2="2862.0" y2="1171.2" stroke="#7fbde0" stroke-width="1.4" /><text x="2042.0" y="1179.2" font-size="20.5" fill="#000" font-weight="bold" text-anchor="end" class="th" textLength="62.8" lengthAdjust="spacingAndGlyphs" stroke="#000" stroke-width="0.4">2,500</text><line x1="2070.4" y1="1107.6" x2="2862.0" y2="1107.6" stroke="#7fbde0" stroke-width="1.4" /><text x="2042.0" y="1115.5" font-size="20.5" fill="#000" font-weight="bold" text-anchor="end" class="th" textLength="62.8" lengthAdjust="spacingAndGlyphs" stroke="#000" stroke-width="0.4">3,000</text><line x1="2070.4" y1="1044.0" x2="2862.0" y2="1044.0" stroke="#7fbde0" stroke-width="1.4" /><text x="2042.0" y="1051.9" font-size="20.5" fill="#000" font-weight="bold" text-anchor="end" class="th" textLength="62.8" lengthAdjust="spacingAndGlyphs" stroke="#000" stroke-width="0.4">3,500</text><line x1="2070.4" y1="980.4" x2="2862.0" y2="980.4" stroke="#7fbde0" stroke-width="1.4" /><text x="2042.0" y="988.3" font-size="20.5" fill="#000" font-weight="bold" text-anchor="end" class="th" textLength="62.8" lengthAdjust="spacingAndGlyphs" stroke="#000" stroke-width="0.4">4,000</text><line x1="2070.4" y1="916.8" x2="2862.0" y2="916.8" stroke="#7fbde0" stroke-width="1.4" /><text x="2042.0" y="924.7" font-size="20.5" fill="#000" font-weight="bold" text-anchor="end" class="th" textLength="62.8" lengthAdjust="spacingAndGlyphs" stroke="#000" stroke-width="0.4">4,500</text><line x1="2070.4" y1="853.2" x2="2862.0" y2="853.2" stroke="#7fbde0" stroke-width="1.4" /><text x="2042.0" y="861.1" font-size="20.5" fill="#000" font-weight="bold" text-anchor="end" class="th" textLength="62.8" lengthAdjust="spacingAndGlyphs" stroke="#000" stroke-width="0.4">5,000</text><polyline points="2151.3,1310.7 2312.2,1241.7 2473.0,1147.0 2633.9,1018.2 2794.7,886.5" fill="none" stroke="#4ab1e6" stroke-width="4.2" stroke-linejoin="round" stroke-linecap="round"/><polyline points="2151.3,1351.9 2312.2,1272.4 2473.0,1188.0 2633.9,1057.1 2794.7,921.8" fill="none" stroke="#4b4fd0" stroke-width="4.2" stroke-linejoin="round" stroke-linecap="round"/><polyline points="2151.3,1334.7 2312.2,1272.0 2473.0,1183.1 2633.9,1081.7 2794.7,944.0" fill="none" stroke="#f07c70" stroke-width="4.2" stroke-linejoin="round" stroke-linecap="round"/><polyline points="2151.3,1489.3 2312.2,1489.3 2473.0,1489.3 2633.9,1489.3 2794.7,1489.3" fill="none" stroke="#2bb5a0" stroke-width="4.2" stroke-linejoin="round" stroke-linecap="round"/><circle cx="2151.3" cy="1310.7" r="6.800" fill="#4ab1e6"/><circle cx="2312.2" cy="1241.7" r="6.800" fill="#4ab1e6"/><circle cx="2473.0" cy="1147.0" r="6.800" fill="#4ab1e6"/><circle cx="2633.9" cy="1018.2" r="6.800" fill="#4ab1e6"/><circle cx="2794.7" cy="886.5" r="6.800" fill="#4ab1e6"/><rect x="2143.3" y="1343.9" width="16.0" height="16.0" fill="#4b4fd0"/><rect x="2304.2" y="1264.4" width="16.0" height="16.0" fill="#4b4fd0"/><rect x="2465.0" y="1180.0" width="16.0" height="16.0" fill="#4b4fd0"/><rect x="2625.9" y="1049.1" width="16.0" height="16.0" fill="#4b4fd0"/><rect x="2786.7" y="913.8" width="16.0" height="16.0" fill="#4b4fd0"/><path d="M2151.3 1325.2L2159.8 1341.2H2142.8Z" stroke="none" stroke-width="0" fill="#f07c70" /><path d="M2312.2 1262.5L2320.7 1278.5H2303.7Z" stroke="none" stroke-width="0" fill="#f07c70" /><path d="M2473.0 1173.6L2481.5 1189.6H2464.5Z" stroke="none" stroke-width="0" fill="#f07c70" /><path d="M2633.9 1072.2L2642.4 1088.2H2625.4Z" stroke="none" stroke-width="0" fill="#f07c70" /><path d="M2794.7 934.5L2803.2 950.5H2786.2Z" stroke="none" stroke-width="0" fill="#f07c70" /><rect x="2142.8" y="1480.8" width="17.0" height="17.0" fill="#2bb5a0"/><rect x="2303.7" y="1480.8" width="17.0" height="17.0" fill="#2bb5a0"/><rect x="2464.5" y="1480.8" width="17.0" height="17.0" fill="#2bb5a0"/><rect x="2625.4" y="1480.8" width="17.0" height="17.0" fill="#2bb5a0"/><rect x="2786.2" y="1480.8" width="17.0" height="17.0" fill="#2bb5a0"/><text x="2151.3" y="1526.2" font-size="20.5" fill="#000" font-weight="bold" text-anchor="middle" class="th" textLength="56.0" lengthAdjust="spacingAndGlyphs" stroke="#000" stroke-width="0.4">2026</text><text x="2312.2" y="1526.2" font-size="20.5" fill="#000" font-weight="bold" text-anchor="middle" class="th" textLength="56.0" lengthAdjust="spacingAndGlyphs" stroke="#000" stroke-width="0.4">2027</text><text x="2473.0" y="1526.2" font-size="20.5" fill="#000" font-weight="bold" text-anchor="middle" class="th" textLength="56.0" lengthAdjust="spacingAndGlyphs" stroke="#000" stroke-width="0.4">2028</text><text x="2633.9" y="1526.2" font-size="20.5" fill="#000" font-weight="bold" text-anchor="middle" class="th" textLength="56.0" lengthAdjust="spacingAndGlyphs" stroke="#000" stroke-width="0.4">2029</text><text x="2794.7" y="1526.2" font-size="20.5" fill="#000" font-weight="bold" text-anchor="middle" class="th" textLength="56.0" lengthAdjust="spacingAndGlyphs" stroke="#000" stroke-width="0.4">2030</text><rect x="82.0" y="1537.0" width="2778.0" height="42.0" fill="#4b4fd0"/><line x1="1824.3" y1="1537.0" x2="1824.3" y2="1579.0" stroke="#b9bbf2" stroke-width="1.2" /><text x="693.2" y="1571.2" font-size="34" fill="#fff" font-weight="bold" class="th" textLength="520.0" lengthAdjust="spacingAndGlyphs" stroke="#fff" stroke-width="0.3">Revenue Depth ($'000) - 2026</text><text x="2064.7" y="1571.2" font-size="34" fill="#fff" font-weight="bold" class="th" textLength="571.3" lengthAdjust="spacingAndGlyphs" stroke="#fff" stroke-width="0.3">Monthly Run-Rate ($'000) - 2026</text><rect x="2573.4" y="1579.6" width="300.0" height="28.3" fill="#fff066" stroke="#cfcfcf" stroke-width="1.5"/><text x="2725.5" y="1601.8" font-size="22" fill="#222" font-weight="bold" text-anchor="middle" class="th" textLength="55.0" lengthAdjust="spacingAndGlyphs">2026</text><line x1="82.0" y1="1620.3" x2="1606.0" y2="1620.3" stroke="#7ab8de" stroke-width="1.5" /><text x="247.0" y="1683.0" font-size="22" fill="#000" font-weight="bold" class="th" textLength="82.5" lengthAdjust="spacingAndGlyphs">1,404.0</text><rect x="1657.5" y="1661.0" width="12.0" height="12.0" fill="#4ab1e6"/><text x="1675.7" y="1673.5" font-size="22" fill="#000" font-weight="bold" class="th" textLength="219.0" lengthAdjust="spacingAndGlyphs">Full-Stack Web Dev</text><rect x="2319.5" y="1662.5" width="79.5" height="30.0" fill="#fff" stroke="#444" stroke-width="1.6"/><rect x="2411.5" y="1661.0" width="79.5" height="30.0" fill="#fff" stroke="#444" stroke-width="1.6"/></svg></main>
<nav id="tabbar" class="sec" style="left:11px;top:1670px;width:2880px;height:48px;background:#0a0a0a;"><svg width="2880" height="48" viewBox="11 1670 2880 48"><path d="M54 1685l-7.500 8 7.500 8" stroke="#f0f0f0" stroke-width="1.7" fill="none" stroke-linecap="round" stroke-linejoin="round"/><path d="M95.500 1685l7.500 8-7.500 8" stroke="#f0f0f0" stroke-width="1.7" fill="none" stroke-linecap="round" stroke-linejoin="round"/><circle cx="139.5" cy="1693.500" r="2.200" fill="#f0f0f0"/><circle cx="146" cy="1693.500" r="2.200" fill="#f0f0f0"/><circle cx="152.5" cy="1693.500" r="2.200" fill="#f0f0f0"/><rect x="177.0" y="1676.0" width="88.8" height="36.0" fill="#fdea5c" rx="8"/><text x="221.8" y="1702.6" font-size="20.5" fill="#101820" text-anchor="middle" textLength="61.8" lengthAdjust="spacingAndGlyphs">Payroll</text><rect x="279.2" y="1676.0" width="86.8" height="36.0" fill="#fdea5c" rx="8"/><text x="323.0" y="1702.6" font-size="20.5" fill="#101820" text-anchor="middle" textLength="59.8" lengthAdjust="spacingAndGlyphs">CAPEX</text><line x1="272.5" y1="1680.0" x2="272.5" y2="1708.0" stroke="#565656" stroke-width="1.3" /><rect x="378.7" y="1676.0" width="113.2" height="36.0" fill="#fdea5c" rx="8"/><text x="435.7" y="1702.6" font-size="20.5" fill="#101820" text-anchor="middle" textLength="86.2" lengthAdjust="spacingAndGlyphs">CapTable</text><line x1="372.4" y1="1680.0" x2="372.4" y2="1708.0" stroke="#565656" stroke-width="1.3" /><rect x="505.3" y="1676.0" width="89.7" height="36.0" fill="#fdea5c" rx="8"/><text x="550.5" y="1702.6" font-size="20.5" fill="#101820" text-anchor="middle" textLength="62.7" lengthAdjust="spacingAndGlyphs">Capital</text><line x1="498.6" y1="1680.0" x2="498.6" y2="1708.0" stroke="#565656" stroke-width="1.3" /><rect x="608.0" y="1676.0" width="42.2" height="36.0" fill="#4ab0e8" rx="8"/><text x="629.5" y="1702.6" font-size="20.5" fill="#101820" text-anchor="middle" textLength="15.2" lengthAdjust="spacingAndGlyphs">IS</text><line x1="601.5" y1="1680.0" x2="601.5" y2="1708.0" stroke="#565656" stroke-width="1.3" /><rect x="662.7" y="1676.0" width="48.3" height="36.0" fill="#4ab0e8" rx="8"/><text x="687.2" y="1702.6" font-size="20.5" fill="#101820" text-anchor="middle" textLength="21.3" lengthAdjust="spacingAndGlyphs">CF</text><line x1="656.5" y1="1680.0" x2="656.5" y2="1708.0" stroke="#565656" stroke-width="1.3" /><rect x="724.0" y="1676.0" width="48.0" height="36.0" fill="#4ab0e8" rx="8"/><text x="748.4" y="1702.6" font-size="20.5" fill="#101820" text-anchor="middle" textLength="21.0" lengthAdjust="spacingAndGlyphs">BS</text><line x1="717.5" y1="1680.0" x2="717.5" y2="1708.0" stroke="#565656" stroke-width="1.3" /><rect x="785.0" y="1676.0" width="115.2" height="36.0" fill="#4ab0e8" rx="8"/><text x="843.0" y="1702.6" font-size="20.5" fill="#101820" text-anchor="middle" textLength="88.2" lengthAdjust="spacingAndGlyphs">Scenarios</text><line x1="778.5" y1="1680.0" x2="778.5" y2="1708.0" stroke="#565656" stroke-width="1.3" /><rect x="912.7" y="1676.0" width="114.9" height="36.0" fill="#4ab0e8" rx="8"/><text x="970.5" y="1702.6" font-size="20.5" fill="#101820" text-anchor="middle" textLength="87.9" lengthAdjust="spacingAndGlyphs">Valuation</text><line x1="906.5" y1="1680.0" x2="906.5" y2="1708.0" stroke="#565656" stroke-width="1.3" /><rect x="1040.6" y="1676.0" width="114.4" height="36.0" fill="#4ab0e8" rx="8"/><text x="1098.2" y="1702.6" font-size="20.5" fill="#101820" text-anchor="middle" textLength="87.4" lengthAdjust="spacingAndGlyphs">Summary</text><line x1="1034.1" y1="1680.0" x2="1034.1" y2="1708.0" stroke="#565656" stroke-width="1.3" /><rect x="1167.6" y="1676.0" width="48.3" height="36.0" fill="#4ab0e8" rx="8"/><text x="1192.2" y="1702.6" font-size="20.5" fill="#101820" text-anchor="middle" textLength="21.3" lengthAdjust="spacingAndGlyphs">BE</text><line x1="1161.3" y1="1680.0" x2="1161.3" y2="1708.0" stroke="#565656" stroke-width="1.3" /><rect x="1228.9" y="1676.0" width="72.1" height="36.0" fill="#4ab0e8" rx="8"/><text x="1265.4" y="1702.6" font-size="20.5" fill="#101820" text-anchor="middle" textLength="45.1" lengthAdjust="spacingAndGlyphs">ROIC</text><line x1="1222.4" y1="1680.0" x2="1222.4" y2="1708.0" stroke="#565656" stroke-width="1.3" /><rect x="1313.7" y="1676.0" width="85.7" height="36.0" fill="#4ab0e8" rx="8"/><text x="1357.0" y="1702.6" font-size="20.5" fill="#101820" text-anchor="middle" textLength="58.7" lengthAdjust="spacingAndGlyphs">Charts</text><line x1="1307.3" y1="1680.0" x2="1307.3" y2="1708.0" stroke="#565656" stroke-width="1.3" /><rect x="1412.0" y="1676.0" width="64.0" height="36.0" fill="#4ab0e8" rx="8"/><text x="1444.4" y="1702.6" font-size="20.5" fill="#101820" text-anchor="middle" textLength="37.0" lengthAdjust="spacingAndGlyphs">KPIs</text><line x1="1405.7" y1="1680.0" x2="1405.7" y2="1708.0" stroke="#565656" stroke-width="1.3" /><rect x="1489.0" y="1676.0" width="169.3" height="36.0" fill="#4ab0e8" rx="8"/><text x="1574.1" y="1702.6" font-size="20.5" fill="#101820" text-anchor="middle" textLength="142.3" lengthAdjust="spacingAndGlyphs">Sources &amp; Uses</text><line x1="1482.5" y1="1680.0" x2="1482.5" y2="1708.0" stroke="#565656" stroke-width="1.3" /><rect x="1670.9" y="1676.0" width="83.1" height="36.0" fill="#4ab0e8" rx="8"/><text x="1712.9" y="1702.6" font-size="20.5" fill="#101820" text-anchor="middle" textLength="56.1" lengthAdjust="spacingAndGlyphs">Ratios</text><line x1="1664.6" y1="1680.0" x2="1664.6" y2="1708.0" stroke="#565656" stroke-width="1.3" /><rect x="1766.6" y="1676.0" width="96.6" height="36.0" fill="#4ab0e8" rx="8"/><text x="1815.3" y="1702.6" font-size="20.5" fill="#101820" text-anchor="middle" textLength="69.6" lengthAdjust="spacingAndGlyphs">DuPont</text><line x1="1760.3" y1="1680.0" x2="1760.3" y2="1708.0" stroke="#565656" stroke-width="1.3" /><defs><linearGradient id="atg" x1="0" y1="0" x2="0" y2="1"><stop offset="0" stop-color="#ffffff"/><stop offset="0.35" stop-color="#f7fbfe"/><stop offset="1" stop-color="#c9e4f7"/></linearGradient></defs><path d="M1868.500 1670q8 0 8 8v26a8 8 0 0 0 8 8h134a8 8 0 0 0 8-8v-26q0-8 8-8z" stroke="none" stroke-width="0" fill="url(#atg)" /><text x="1951.6" y="1698.3" font-size="21" fill="#161616" text-anchor="middle" textLength="126.6" lengthAdjust="spacingAndGlyphs">Top_Revenue</text><line x1="1888.3" y1="1706.3" x2="2014.9" y2="1706.3" stroke="#1f8a52" stroke-width="3" /><line x1="2033.5" y1="1680.0" x2="2033.5" y2="1708.0" stroke="#565656" stroke-width="1.3" /><clipPath id="ctab"><rect x="2040" y="1670" width="32" height="48"/></clipPath><g clip-path="url(#ctab)"><rect x="2040.3" y="1676.0" width="90.0" height="36.0" fill="#4ab0e8" rx="7"/><text x="2055.0" y="1703.5" font-size="21" fill="#161616">Top</text></g><circle cx="2088.5" cy="1692.500" r="2.200" fill="#f0f0f0"/><circle cx="2095" cy="1692.500" r="2.200" fill="#f0f0f0"/><circle cx="2101.5" cy="1692.500" r="2.200" fill="#f0f0f0"/><path d="M2135 1692.500h16.500 M2143.300 1684.300v16.500" stroke="#f0f0f0" stroke-width="1.6" fill="none" /><rect x="2190.3" y="1685.3" width="3.4" height="3.4" fill="#f0f0f0"/><rect x="2190.3" y="1691.8" width="3.4" height="3.4" fill="#f0f0f0"/><rect x="2190.3" y="1698.3" width="3.4" height="3.4" fill="#f0f0f0"/><rect x="2216.0" y="1680.0" width="644.0" height="26.0" fill="#171717" rx="13"/><path d="M2233.500 1687v13l-9.500-6.500z" stroke="#9c9c9c" stroke-width="1.5" fill="#9c9c9c" stroke-linejoin="round"/><path d="M2842.500 1687v13l9.500-6.500z" stroke="#9c9c9c" stroke-width="1.5" fill="#9c9c9c" stroke-linejoin="round"/><rect x="2241.6" y="1687.0" width="505.0" height="12.5" fill="#9c9c9c" rx="6.2"/></svg></nav>
<footer id="statusbar" class="sec" style="left:11px;top:1718px;width:2880px;height:33px;background:#141414;"><svg width="2880" height="33" viewBox="11 1718 2880 33"><line x1="11.0" y1="1718.4" x2="2891.0" y2="1718.4" stroke="#2c2c2c" stroke-width="1" /><text x="27.3" y="1741.3" font-size="16.5" fill="#f0f0f0" textLength="42.0" lengthAdjust="spacingAndGlyphs">Ready</text><rect x="100.5" y="1727.5" width="19.5" height="16.0" fill="none" rx="1.5" stroke="#f0f0f0" stroke-width="1.5"/><line x1="100.5" y1="1731.5" x2="120.0" y2="1731.5" stroke="#f0f0f0" stroke-width="1.5" /><line x1="103.5" y1="1736.0" x2="108.0" y2="1736.0" stroke="#f0f0f0" stroke-width="1.4" /><line x1="103.5" y1="1740.0" x2="108.0" y2="1740.0" stroke="#f0f0f0" stroke-width="1.4" /><circle cx="114.500" cy="1739.500" r="5.500" fill="#141414" stroke="#f0f0f0" stroke-width="1.5"/><circle cx="114.500" cy="1739.500" r="2.300" fill="#f0f0f0"/><circle cx="155.500" cy="1727.500" r="2.500" fill="none" stroke="#f0f0f0" stroke-width="1.4"/><path d="M147.500 1730.500l5.500 2.500h5l5.500-2.500 M153 1733v5l-3 7.500 M158 1733v4.500l1.500 2 M155.500 1738l-1.500 3.500 M159 1737.500l7.500 7.500 M166.500 1737.500l-7.500 7.500" stroke="#f0f0f0" stroke-width="1.5" fill="none" stroke-linecap="round" stroke-linejoin="round"/><text x="173.3" y="1741.3" font-size="16" fill="#f0f0f0" font-weight="bold" textLength="187.5" lengthAdjust="spacingAndGlyphs">Accessibility: Investigate</text><rect x="2445.0" y="1718.0" width="60.0" height="33.0" fill="#2b2b2b"/><rect x="2464.5" y="1725.5" width="19.0" height="18.5" fill="none" stroke="#f0f0f0" stroke-width="1.6"/><line x1="2470.8" y1="1725.5" x2="2470.8" y2="1744.0" stroke="#f0f0f0" stroke-width="1.4" /><line x1="2477.2" y1="1725.5" x2="2477.2" y2="1744.0" stroke="#f0f0f0" stroke-width="1.4" /><line x1="2464.5" y1="1731.7" x2="2483.5" y2="1731.7" stroke="#f0f0f0" stroke-width="1.4" /><line x1="2464.5" y1="1737.9" x2="2483.5" y2="1737.9" stroke="#f0f0f0" stroke-width="1.4" /><rect x="2525.0" y="1725.5" width="20.0" height="18.5" fill="none" stroke="#fff" stroke-width="2"/><rect x="2529.8" y="1730.0" width="10.4" height="9.5" fill="none" stroke="#fff" stroke-width="1.6"/><line x1="2532.0" y1="1733.0" x2="2538.0" y2="1733.0" stroke="#fff" stroke-width="1.3" /><line x1="2532.0" y1="1735.3" x2="2538.0" y2="1735.3" stroke="#fff" stroke-width="1.3" /><line x1="2532.0" y1="1737.5" x2="2538.0" y2="1737.5" stroke="#fff" stroke-width="1.3" /><rect x="2585.0" y="1725.5" width="20.0" height="18.5" fill="none" stroke="#fff" stroke-width="2"/><path d="M2585 1736.0h12.500V1725.5 M2591.2 1725.5v10.500" stroke="#fff" stroke-width="1.8" fill="none" /><line x1="2633.0" y1="1735.0" x2="2644.0" y2="1735.0" stroke="#bdbdbd" stroke-width="1.3" /><line x1="2653.0" y1="1735.0" x2="2801.0" y2="1735.0" stroke="#bdbdbd" stroke-width="1.3" /><line x1="2727.0" y1="1730.5" x2="2727.0" y2="1739.5" stroke="#bdbdbd" stroke-width="1.3" /><rect x="2733.0" y="1727.0" width="7.0" height="16.5" fill="#c6c6c6" rx="1"/><path d="M2809 1735h11.500 M2814.700 1729.300v11.500" stroke="#bdbdbd" stroke-width="1.3" fill="none" /><text x="2840.0" y="1741.3" font-size="16.5" fill="#f0f0f0" textLength="39.0" lengthAdjust="spacingAndGlyphs">140%</text></svg></footer>
<div id="vscroll" class="sec" style="left:2860px;top:278px;width:31px;height:1392px;background:#0a0a0a;"><svg width="31" height="1392" viewBox="2860 278 31 1392"><rect x="2864.0" y="279.0" width="24.0" height="1391.0" fill="#151515" rx="12"/><path d="M2876 285.500l6.500 8.500h-13z" stroke="#9c9c9c" stroke-width="1.5" fill="#9c9c9c" stroke-linejoin="round"/><path d="M2876 1663l6.500-8.500h-13z" stroke="#9c9c9c" stroke-width="1.5" fill="#9c9c9c" stroke-linejoin="round"/><rect x="2870.3" y="303.0" width="11.7" height="562.5" fill="#9c9c9c" rx="5.8"/></svg></div>
</body></html>
